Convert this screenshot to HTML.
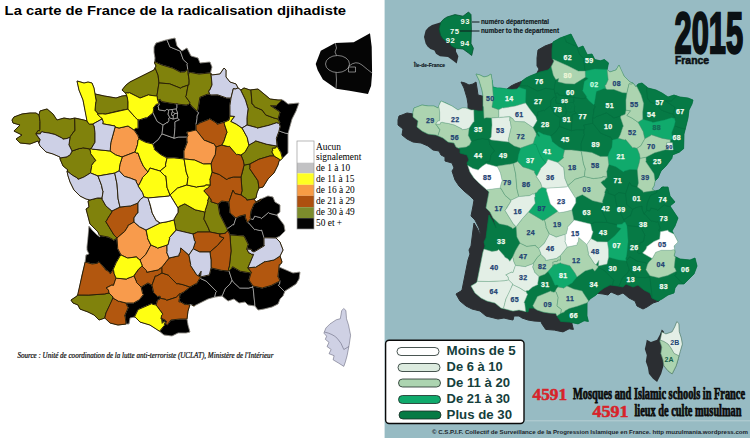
<!DOCTYPE html>
<html><head><meta charset="utf-8"><title>Cartes de France</title>
<style>html,body{margin:0;padding:0;background:#fff;}body{width:750px;height:438px;overflow:hidden;font-family:"Liberation Sans",sans-serif;}svg{display:block}</style>
</head><body>
<svg width="750" height="438" viewBox="0 0 750 438">
<rect x="0" y="0" width="750" height="438" fill="#ffffff"/>
<rect x="384.6" y="0" width="365.4" height="438" fill="#97bbc3"/>
<g id="rightmap" stroke-linejoin="round"><path d="M413.0,112.0 413.0,117.0 418.0,121.0 417.0,127.0 422.0,131.0 428.0,134.0 436.0,135.0 443.0,138.0 448.0,142.0 454.0,143.0 456.0,147.0 460.0,149.0 460.0,153.0 467.0,155.0 469.0,160.0 467.0,163.0 468.0,166.0 470.0,172.0 474.0,178.0 479.0,183.0 485.0,188.0 486.0,189.0 489.0,192.0 488.0,198.0 486.0,208.0 490.0,212.0 494.0,220.0 496.0,228.0 492.0,220.0 489.0,215.0 488.0,222.0 487.0,230.0 486.0,238.0 484.0,242.0 485.0,246.0 483.0,252.0 481.0,262.0 479.0,272.0 477.0,282.0 476.0,283.0 471.0,286.0 475.0,293.0 481.0,298.0 487.0,301.0 495.0,303.0 501.0,308.0 505.0,309.0 513.0,311.0 519.0,310.0 523.0,311.0 528.0,312.0 529.0,308.0 534.0,308.0 537.0,310.0 543.0,312.0 549.0,313.0 555.8,313.4 557.0,316.0 560.7,321.4 569.3,322.1 578.0,323.9 584.1,320.8 588.4,321.4 587.0,316.0 587.0,310.0 587.0,303.0 590.0,299.0 596.0,295.0 600.0,291.0 604.0,288.0 610.0,285.0 618.0,286.0 623.0,287.0 626.0,284.0 633.0,287.0 638.0,285.0 644.0,290.0 650.0,293.0 652.0,298.0 658.0,301.0 662.0,299.0 668.0,295.0 674.0,293.0 675.0,288.0 678.0,284.0 684.0,284.0 688.0,280.0 694.0,274.0 697.0,266.0 695.0,258.0 690.0,260.0 680.0,259.0 674.0,256.0 675.0,252.0 674.0,246.0 678.0,242.0 675.0,236.0 672.0,231.0 675.0,226.0 678.0,218.0 674.0,212.0 670.0,206.0 675.0,202.0 670.0,196.0 668.0,187.0 662.0,187.0 659.0,190.0 655.0,191.0 652.0,189.0 654.0,186.0 655.0,181.0 658.0,178.0 661.0,171.0 666.0,166.0 671.9,158.3 672.6,154.9 679.5,152.1 683.6,148.7 683.8,142.0 684.0,134.0 686.0,126.0 688.0,118.0 689.0,110.0 692.0,104.0 693.0,100.0 688.0,98.0 680.0,97.0 674.0,95.0 668.0,97.0 662.0,93.0 656.0,90.0 648.0,88.0 642.0,83.0 638.0,84.0 636.0,87.0 633.0,83.0 630.0,82.0 624.0,76.0 621.0,70.0 619.0,65.0 616.0,70.0 610.0,72.0 607.1,69.7 608.5,62.9 604.4,59.5 600.3,60.8 594.8,59.5 592.0,54.0 587.3,54.7 583.0,46.0 578.0,48.0 575.0,42.0 571.0,34.0 560.0,38.0 553.0,42.0 552.0,50.0 552.0,58.0 554.0,61.0 551.0,67.0 548.0,70.0 540.0,72.0 530.0,76.0 526.0,78.0 522.0,81.0 520.0,86.0 517.0,89.0 512.0,89.5 506.0,89.0 500.0,88.0 497.0,88.0 493.0,87.0 492.0,80.0 491.0,74.0 488.0,76.0 484.0,77.0 480.0,75.0 476.0,74.0 479.0,80.0 482.0,90.0 483.0,96.0 483.0,104.0 483.0,111.0 478.0,111.0 474.0,110.0 471.0,110.0 466.0,108.0 462.0,108.0 458.0,110.0 452.0,106.0 446.0,103.0 441.0,101.0 440.0,103.0 438.0,108.0 434.0,106.0 428.0,106.0 422.0,105.0 417.0,107.0 414.0,108.0Z" fill="#2b2e32" stroke="#2b2e32" stroke-width="1" transform="translate(-15,8)"/><path d="M413.0,112.0 413.0,117.0 418.0,121.0 417.0,127.0 422.0,131.0 428.0,134.0 436.0,135.0 443.0,138.0 448.0,142.0 454.0,143.0 456.0,147.0 460.0,149.0 460.0,153.0 467.0,155.0 469.0,160.0 467.0,163.0 468.0,166.0 470.0,172.0 474.0,178.0 479.0,183.0 485.0,188.0 486.0,189.0 489.0,192.0 488.0,198.0 486.0,208.0 490.0,212.0 494.0,220.0 496.0,228.0 492.0,220.0 489.0,215.0 488.0,222.0 487.0,230.0 486.0,238.0 484.0,242.0 485.0,246.0 483.0,252.0 481.0,262.0 479.0,272.0 477.0,282.0 476.0,283.0 471.0,286.0 475.0,293.0 481.0,298.0 487.0,301.0 495.0,303.0 501.0,308.0 505.0,309.0 513.0,311.0 519.0,310.0 523.0,311.0 528.0,312.0 529.0,308.0 534.0,308.0 537.0,310.0 543.0,312.0 549.0,313.0 555.8,313.4 557.0,316.0 560.7,321.4 569.3,322.1 578.0,323.9 584.1,320.8 588.4,321.4 587.0,316.0 587.0,310.0 587.0,303.0 590.0,299.0 596.0,295.0 600.0,291.0 604.0,288.0 610.0,285.0 618.0,286.0 623.0,287.0 626.0,284.0 633.0,287.0 638.0,285.0 644.0,290.0 650.0,293.0 652.0,298.0 658.0,301.0 662.0,299.0 668.0,295.0 674.0,293.0 675.0,288.0 678.0,284.0 684.0,284.0 688.0,280.0 694.0,274.0 697.0,266.0 695.0,258.0 690.0,260.0 680.0,259.0 674.0,256.0 675.0,252.0 674.0,246.0 678.0,242.0 675.0,236.0 672.0,231.0 675.0,226.0 678.0,218.0 674.0,212.0 670.0,206.0 675.0,202.0 670.0,196.0 668.0,187.0 662.0,187.0 659.0,190.0 655.0,191.0 652.0,189.0 654.0,186.0 655.0,181.0 658.0,178.0 661.0,171.0 666.0,166.0 671.9,158.3 672.6,154.9 679.5,152.1 683.6,148.7 683.8,142.0 684.0,134.0 686.0,126.0 688.0,118.0 689.0,110.0 692.0,104.0 693.0,100.0 688.0,98.0 680.0,97.0 674.0,95.0 668.0,97.0 662.0,93.0 656.0,90.0 648.0,88.0 642.0,83.0 638.0,84.0 636.0,87.0 633.0,83.0 630.0,82.0 624.0,76.0 621.0,70.0 619.0,65.0 616.0,70.0 610.0,72.0 607.1,69.7 608.5,62.9 604.4,59.5 600.3,60.8 594.8,59.5 592.0,54.0 587.3,54.7 583.0,46.0 578.0,48.0 575.0,42.0 571.0,34.0 560.0,38.0 553.0,42.0 552.0,50.0 552.0,58.0 554.0,61.0 551.0,67.0 548.0,70.0 540.0,72.0 530.0,76.0 526.0,78.0 522.0,81.0 520.0,86.0 517.0,89.0 512.0,89.5 506.0,89.0 500.0,88.0 497.0,88.0 493.0,87.0 492.0,80.0 491.0,74.0 488.0,76.0 484.0,77.0 480.0,75.0 476.0,74.0 479.0,80.0 482.0,90.0 483.0,96.0 483.0,104.0 483.0,111.0 478.0,111.0 474.0,110.0 471.0,110.0 466.0,108.0 462.0,108.0 458.0,110.0 452.0,106.0 446.0,103.0 441.0,101.0 440.0,103.0 438.0,108.0 434.0,106.0 428.0,106.0 422.0,105.0 417.0,107.0 414.0,108.0Z" fill="#067a45" stroke="#067a45" stroke-width="0.4"/><path d="M471.4,141.3 469.4,145.2 466.9,146.4 466.7,146.9 458.2,148.1 460.0,149.0 460.0,153.0 467.0,155.0 469.0,160.0 467.0,163.0 467.8,165.5 473.0,168.5 478.4,170.1 478.8,169.3 482.6,166.0 486.1,163.7 485.8,162.1 489.9,161.4 490.8,156.3 490.6,155.8 493.2,152.2 494.8,151.1 489.5,144.0 489.7,143.6 488.9,139.7 481.7,138.4 481.3,138.9 478.4,139.1Z" fill="#067a45" stroke="#056c3f" stroke-width="0.5"/><path d="M473.8,110.0 474.1,121.8 473.3,122.1 469.3,127.6 468.4,134.6 468.1,135.0 471.3,141.4 478.4,139.1 481.3,138.9 481.7,138.4 488.9,139.7 491.1,137.2 492.0,128.0 491.9,118.6 491.7,118.0 486.6,117.7 484.0,118.3 483.5,106.7 483.0,106.2 483.0,111.0 478.0,111.0Z" fill="#067a45" stroke="#056c3f" stroke-width="0.5"/><path d="M507.5,225.5 499.2,223.8 493.0,217.9 494.0,220.0 496.0,228.0 492.0,220.0 489.0,215.0 486.0,238.0 484.0,242.0 485.0,246.0 484.0,249.1 491.9,251.4 497.1,250.8 498.6,249.4 504.6,256.3 504.6,256.9 508.1,259.0 509.8,261.3 512.4,257.6 515.4,250.7 519.2,244.2 520.2,243.2 516.9,236.9 516.2,226.9 512.7,228.8 511.9,227.8Z" fill="#067a45" stroke="#056c3f" stroke-width="0.5"/><path d="M489.5,144.0 494.8,151.1 493.2,152.2 490.6,155.8 490.8,156.3 489.9,161.4 485.8,162.1 486.1,163.7 497.1,166.7 497.4,166.0 513.4,163.6 517.7,161.5 518.4,155.2 520.4,149.0 520.4,148.1 514.1,145.9 508.5,142.0 491.2,139.9 489.6,139.0 488.9,139.7 489.7,143.6Z" fill="#067a45" stroke="#056c3f" stroke-width="0.5"/><path d="M526.8,86.1 527.2,85.8 537.7,91.2 546.1,88.2 546.5,88.5 553.0,89.5 554.3,89.3 555.8,79.6 553.3,75.2 551.2,66.7 548.0,70.0 540.0,72.0 530.0,76.0 526.0,78.0 522.0,81.0 520.0,86.0Z" fill="#067a45" stroke="#056c3f" stroke-width="0.5"/><path d="M552.7,59.1 567.9,65.8 578.3,71.1 585.2,71.1 583.6,59.4 584.0,58.6 579.7,54.6 576.8,46.4 566.3,42.0 566.3,41.4 564.2,36.5 560.0,38.0 553.0,42.0 552.0,50.0 552.0,58.0Z" fill="#067a45" stroke="#056c3f" stroke-width="0.5"/><path d="M538.1,284.4 532.3,287.2 528.6,290.5 526.4,290.7 526.0,291.2 526.8,293.4 527.7,294.0 524.1,302.5 524.7,303.2 525.7,311.5 528.0,312.0 529.0,308.0 534.4,308.2 532.8,305.7 537.4,296.5 550.7,291.0 551.3,291.6 554.0,292.2 555.2,291.5 556.3,288.9 557.9,287.0 558.2,285.3 556.0,285.0 555.0,285.4 551.5,277.6 547.9,271.6 544.9,274.3 538.9,276.5 537.7,283.4Z" fill="#067a45" stroke="#056c3f" stroke-width="0.5"/><path d="M527.2,85.8 526.8,86.1 520.0,86.0 518.8,87.2 526.0,89.5 525.5,102.9 529.6,108.8 535.8,116.7 537.9,115.6 537.5,112.3 543.9,110.3 544.5,110.6 549.8,106.5 550.5,105.8 551.1,102.0 550.6,101.2 553.7,97.4 556.5,97.1 556.5,96.8 555.0,93.8 554.2,89.3 553.0,89.5 546.5,88.5 546.1,88.2 537.7,91.2Z" fill="#067a45" stroke="#056c3f" stroke-width="0.5"/><path d="M543.9,110.3 537.5,112.3 537.9,115.6 535.8,116.7 537.1,120.8 533.0,127.4 536.1,133.2 539.2,136.7 539.5,135.4 537.4,132.7 538.5,131.7 543.5,134.3 550.6,136.1 555.8,132.0 559.5,126.4 560.5,117.8 554.7,114.2 550.4,105.8 544.5,110.6Z" fill="#067a45" stroke="#056c3f" stroke-width="0.5"/><path d="M550.5,105.8 554.7,114.2 560.5,117.8 564.1,115.6 564.7,115.8 566.3,113.4 566.0,111.6 566.8,110.3 565.2,107.4 565.8,104.6 565.5,103.4 564.8,102.8 563.6,102.7 562.3,104.1 556.0,102.9 556.1,101.2 555.4,100.0 556.8,97.6 556.5,97.1 553.7,97.4 550.6,101.2 551.1,102.0Z" fill="#067a45" stroke="#056c3f" stroke-width="0.5"/><path d="M571.3,130.8 559.5,126.4 555.8,132.0 550.6,136.1 552.1,140.4 551.9,141.2 558.4,146.5 564.6,149.9 571.5,149.9 581.3,151.2 581.1,143.5 584.5,134.5 584.0,134.0 584.0,129.8 575.9,129.7Z" fill="#067a45" stroke="#056c3f" stroke-width="0.5"/><path d="M555.8,79.6 554.2,89.3 555.1,93.6 557.5,92.9 558.7,94.9 566.6,96.5 572.8,97.5 573.9,97.2 575.6,97.9 583.0,98.8 585.3,98.2 586.4,97.2 586.6,96.4 582.4,90.5 582.9,89.9 584.3,81.5 588.2,78.6 585.4,77.2 574.4,84.1 565.8,83.7 557.9,81.8 558.7,78.6Z" fill="#067a45" stroke="#056c3f" stroke-width="0.5"/><path d="M556.8,97.6 555.4,100.0 556.1,101.2 556.0,102.9 562.3,104.1 563.6,102.7 564.8,102.8 565.5,103.4 573.1,102.5 574.0,101.6 573.9,97.2 572.8,97.5 558.7,94.9 557.5,92.9 555.0,93.8Z" fill="#067a45" stroke="#056c3f" stroke-width="0.5"/><path d="M569.2,308.6 564.7,311.1 564.5,311.9 560.8,313.3 557.0,316.0 560.7,321.4 569.3,322.1 578.0,323.9 584.1,320.8 588.4,321.4 587.0,316.0 587.1,302.8 577.4,306.2Z" fill="#067a45" stroke="#056c3f" stroke-width="0.5"/><path d="M564.1,115.6 560.4,118.0 559.5,126.3 571.3,130.7 572.2,120.4 572.1,114.9 576.5,113.0 574.3,111.2 570.3,112.2 566.7,110.9 566.0,111.6 566.3,113.4 564.7,115.8Z" fill="#067a45" stroke="#056c3f" stroke-width="0.5"/><path d="M566.3,41.4 566.3,42.0 576.8,46.4 579.7,54.6 584.0,58.6 583.6,59.4 585.2,71.1 594.7,69.0 606.4,69.7 607.2,69.4 608.5,62.9 604.4,59.5 600.3,60.8 594.8,59.5 592.0,54.0 587.3,54.7 583.0,46.0 578.0,48.0 571.0,34.0 564.2,36.5Z" fill="#067a45" stroke="#056c3f" stroke-width="0.5"/><path d="M565.4,107.5 566.8,110.3 566.7,110.9 570.3,112.2 570.4,108.9 568.9,108.5 568.7,107.7 569.2,105.7 569.6,105.3 569.3,102.9 565.5,103.4 565.8,104.6Z" fill="#067a45" stroke="none" stroke-width="0.5"/><path d="M585.1,270.9 577.0,277.0 572.8,282.1 572.8,282.5 566.9,286.0 573.7,288.9 582.4,291.1 582.5,291.7 588.6,300.9 590.0,299.0 596.0,295.0 600.0,291.0 604.0,288.0 610.0,285.0 612.6,285.3 613.3,281.6 614.2,280.4 604.0,270.1 598.0,267.3 594.8,271.2 592.7,268.8Z" fill="#067a45" stroke="#056c3f" stroke-width="0.5"/><path d="M568.9,108.5 570.4,108.9 572.0,106.9 570.7,105.7 569.6,105.3 569.2,105.7 568.7,107.7Z" fill="#067a45" stroke="none" stroke-width="0.5"/><path d="M570.4,108.9 570.5,112.1 574.3,111.2 574.5,106.6 572.0,106.9Z" fill="#067a45" stroke="none" stroke-width="0.5"/><path d="M575.6,97.9 574.0,97.2 574.0,101.6 573.1,102.5 574.6,106.5 574.3,111.2 576.5,113.0 572.1,114.9 572.2,120.4 571.3,130.8 575.9,129.7 584.0,129.8 585.0,128.8 583.8,125.2 589.0,124.4 592.9,123.2 592.8,117.9 593.8,111.9 593.8,109.2 594.2,109.1 595.3,106.5 588.5,100.2 586.4,97.2 585.3,98.2 583.0,98.8Z" fill="#067a45" stroke="#056c3f" stroke-width="0.5"/><path d="M570.7,105.7 572.0,106.9 574.6,106.5 573.1,102.5 569.3,102.9 569.6,105.3Z" fill="#067a45" stroke="none" stroke-width="0.5"/><path d="M575.7,198.6 575.8,202.8 572.0,209.1 571.9,210.1 573.9,220.0 590.6,224.1 594.2,222.8 594.5,222.3 607.2,222.5 605.7,218.5 601.7,210.5 601.2,210.2 602.3,203.0 592.6,200.7 582.3,194.7 576.7,197.2Z" fill="#067a45" stroke="#056c3f" stroke-width="0.5"/><path d="M636.6,86.1 641.1,95.0 643.7,103.6 642.7,112.3 642.8,119.3 652.3,122.0 652.7,122.6 664.4,120.0 671.7,117.7 673.6,118.3 674.4,118.2 674.9,117.6 673.1,113.9 669.2,113.0 661.1,109.9 657.6,105.1 649.8,101.7 649.7,100.9 648.5,99.3 647.6,99.0 646.5,86.7 642.0,83.0 638.0,84.0Z" fill="#067a45" stroke="#056c3f" stroke-width="0.5"/><path d="M646.5,86.7 647.6,99.0 648.5,99.3 649.7,100.9 649.8,101.7 657.6,105.1 661.1,109.9 669.2,113.0 672.8,114.0 673.3,113.7 675.1,107.3 665.7,101.0 671.3,101.2 676.7,95.9 674.0,95.0 668.0,97.0 662.0,93.0 656.0,90.0 648.0,88.0Z" fill="#067a45" stroke="#056c3f" stroke-width="0.5"/><path d="M592.9,123.2 583.8,125.2 585.0,128.8 584.0,129.8 584.0,134.0 584.5,134.5 581.1,143.5 581.3,151.1 591.7,152.4 600.4,156.4 607.8,156.4 609.1,152.6 611.9,147.3 612.5,140.1 610.2,136.6 609.6,136.8 601.7,133.5 601.1,133.6Z" fill="#067a45" stroke="#056c3f" stroke-width="0.5"/><path d="M608.6,257.3 607.0,264.1 598.4,265.9 598.9,260.4 596.0,264.8 598.1,266.2 598.0,267.3 604.0,270.1 614.2,280.4 613.3,281.6 612.6,285.3 619.0,286.2 622.5,277.9 627.3,273.4 629.3,269.4 626.2,260.7 618.8,259.9Z" fill="#067a45" stroke="#056c3f" stroke-width="0.5"/><path d="M590.6,224.3 592.2,231.0 593.1,231.6 590.8,238.4 597.3,241.7 607.4,241.9 614.8,235.7 621.1,228.5 616.9,226.9 617.0,224.6 607.2,222.5 594.5,222.3 594.2,222.8Z" fill="#067a45" stroke="#056c3f" stroke-width="0.5"/><path d="M605.4,113.2 596.0,116.7 594.8,118.0 592.8,117.9 592.9,123.3 601.1,133.6 601.7,133.5 609.6,136.8 610.2,136.6 612.5,140.1 618.4,138.3 620.3,134.6 622.9,126.7 623.4,126.2 620.5,117.7 620.7,116.1 613.5,118.1 612.9,116.9 606.1,112.6Z" fill="#067a45" stroke="#056c3f" stroke-width="0.5"/><path d="M596.4,91.5 594.3,104.0 593.4,105.0 595.3,106.5 594.2,109.1 593.8,109.2 593.8,111.9 592.8,117.8 594.8,118.0 596.0,116.7 605.4,113.2 606.1,112.6 612.9,116.9 613.5,118.1 620.5,115.9 621.0,116.1 625.1,114.3 626.0,110.2 625.9,100.0 626.9,92.9 622.6,92.7 613.8,89.5 606.9,89.5 605.9,88.5 603.4,88.8Z" fill="#067a45" stroke="#056c3f" stroke-width="0.5"/><path d="M605.0,192.9 602.4,201.4 602.7,202.7 602.2,203.1 601.2,210.2 601.7,210.5 605.7,218.5 607.2,222.5 617.1,224.6 622.5,224.0 622.7,223.2 624.7,222.0 623.8,219.4 616.7,205.6 614.9,195.4 608.0,193.1 608.4,191.5 606.2,188.4 604.6,192.4Z" fill="#067a45" stroke="#056c3f" stroke-width="0.5"/><path d="M607.1,176.9 604.1,180.5 603.4,180.3 600.9,182.4 606.2,188.4 608.4,191.5 608.0,193.1 614.8,195.4 618.1,193.1 618.4,192.6 625.7,193.7 629.5,182.4 631.5,185.7 637.4,187.1 638.4,183.1 637.3,169.7 629.9,169.5 624.5,170.9 623.5,172.0 615.9,166.8 608.8,164.4 606.6,172.1 606.9,172.4Z" fill="#067a45" stroke="#056c3f" stroke-width="0.5"/><path d="M627.3,273.4 622.5,277.9 619.0,286.2 623.0,287.0 626.0,284.0 633.0,287.0 638.0,285.0 644.0,290.0 650.0,293.0 652.3,298.2 650.1,278.1 649.5,276.7 645.7,277.6 636.9,277.4 630.7,271.7 629.5,269.4Z" fill="#067a45" stroke="#056c3f" stroke-width="0.5"/><path d="M614.9,195.4 616.7,205.6 623.7,219.4 625.2,219.1 629.4,216.1 630.5,216.1 632.7,209.5 626.8,204.5 625.7,193.7 618.4,192.6 618.1,193.1Z" fill="#067a45" stroke="#056c3f" stroke-width="0.5"/><path d="M625.7,193.7 626.8,204.5 632.7,209.4 636.3,207.6 641.9,206.3 641.9,209.0 643.9,214.0 647.1,210.3 646.6,209.5 647.3,203.1 650.5,195.6 656.4,192.9 657.4,190.4 655.0,191.0 654.5,190.6 643.2,192.3 642.7,190.9 637.4,187.1 631.5,185.7 629.5,182.4Z" fill="#067a45" stroke="#056c3f" stroke-width="0.5"/><path d="M632.7,209.4 630.5,216.1 629.4,216.1 625.2,219.1 623.8,219.4 624.7,222.0 625.2,222.3 626.9,225.7 640.7,227.0 644.9,235.3 644.5,235.7 643.4,241.4 639.8,243.0 639.6,245.4 637.4,252.2 638.7,253.6 642.6,253.0 645.6,249.8 646.7,247.5 646.6,246.8 653.9,241.5 659.7,239.0 660.4,231.7 658.8,230.3 660.3,228.2 658.0,221.5 656.4,222.0 652.0,220.8 651.1,221.1 645.3,214.4 643.9,214.0 641.9,209.0 641.9,206.3 636.3,207.6Z" fill="#067a45" stroke="#056c3f" stroke-width="0.5"/><path d="M626.3,260.8 629.2,269.4 630.7,271.7 636.9,277.4 645.7,277.6 649.5,276.7 649.9,275.6 645.9,269.8 647.5,264.3 646.4,263.8 645.5,262.6 637.3,261.1 629.7,256.6Z" fill="#067a45" stroke="#056c3f" stroke-width="0.5"/><path d="M626.9,225.7 628.1,241.3 626.6,255.7 625.6,258.8 626.2,260.7 628.3,258.7 629.7,256.6 637.3,261.1 645.5,262.6 646.4,263.8 647.7,264.2 649.1,261.7 652.2,258.6 642.6,253.0 638.7,253.6 637.4,252.2 639.6,245.4 639.8,243.0 643.4,241.4 644.5,235.7 644.9,235.3 640.7,227.0Z" fill="#067a45" stroke="#056c3f" stroke-width="0.5"/><path d="M646.0,157.2 646.1,161.0 645.7,161.6 654.0,173.7 655.1,180.9 658.0,178.0 661.0,171.0 666.0,166.0 671.9,158.3 672.6,154.9 679.1,152.3 672.8,149.8 665.5,149.8 654.7,152.8ZM662.0,187.0 661.1,187.9 664.0,187.0Z" fill="#067a45" stroke="#056c3f" stroke-width="0.5"/><path d="M656.6,209.4 650.9,207.9 649.5,211.1 647.1,210.3 644.2,213.9 645.3,214.4 651.1,221.1 652.0,220.8 656.4,222.0 658.0,221.5 660.3,228.2 658.8,230.3 660.4,231.7 668.0,230.2 668.5,231.5 673.9,234.1 672.0,231.0 675.0,226.0 678.0,218.0 670.6,206.8 665.6,205.5 664.6,204.6 657.6,210.3Z" fill="#067a45" stroke="#056c3f" stroke-width="0.5"/><path d="M647.3,203.1 646.6,209.5 647.1,210.3 649.5,211.1 650.9,207.9 656.6,209.4 657.6,210.3 664.6,204.6 665.6,205.5 670.6,206.8 670.0,206.0 675.0,202.0 670.0,196.0 668.0,187.0 664.0,187.0 661.1,187.9 659.0,190.0 657.4,190.4 656.4,192.9 650.5,195.6Z" fill="#067a45" stroke="#056c3f" stroke-width="0.5"/><path d="M650.1,278.1 652.3,298.2 658.0,301.0 662.0,299.0 668.0,295.0 674.0,293.0 675.0,288.0 678.0,284.0 683.2,284.0 674.9,275.6 676.0,274.2 676.3,271.3 667.7,275.5 659.6,277.6 659.2,277.9 649.9,275.7 649.5,276.7Z" fill="#067a45" stroke="#056c3f" stroke-width="0.5"/><path d="M674.2,125.7 671.7,132.7 672.3,139.3 670.3,139.8 670.2,142.5 672.4,142.7 673.3,150.2 679.1,152.3 683.6,148.7 684.0,134.0 685.3,128.9 680.9,128.0Z" fill="#067a45" stroke="#056c3f" stroke-width="0.5"/><path d="M675.1,107.3 673.1,113.9 674.9,117.6 674.4,118.2 675.3,121.4 674.2,125.7 680.9,128.0 685.3,128.9 688.0,118.0 689.0,110.0 692.0,104.0 693.0,100.0 688.0,98.0 680.0,97.0 676.7,95.9 671.3,101.2 665.7,101.0Z" fill="#067a45" stroke="#056c3f" stroke-width="0.5"/><path d="M675.4,256.7 674.2,267.5 674.9,267.9 676.4,271.3 676.0,274.2 674.9,275.6 683.2,284.0 684.0,284.0 694.0,274.0 697.0,266.0 695.0,258.0 690.0,260.0 680.0,259.0Z" fill="#067a45" stroke="#056c3f" stroke-width="0.5"/><path d="M492.0,80.1 493.4,98.2 491.9,107.2 499.1,109.8 502.5,107.8 503.0,108.1 515.3,106.0 525.5,102.9 526.0,89.5 518.8,87.2 517.0,89.0 512.0,89.5 500.0,88.0 497.0,88.0 493.0,87.0Z" fill="#10aa6c" stroke="#0a9660" stroke-width="0.5"/><path d="M533.2,143.4 520.4,148.1 520.4,149.0 518.4,155.2 517.6,161.3 522.8,166.9 528.8,168.8 534.5,171.1 534.4,172.4 536.5,175.9 537.3,175.5 540.7,168.8 540.6,168.4 546.0,163.2 541.4,157.3 538.7,151.6 536.0,144.4 534.3,144.5Z" fill="#10aa6c" stroke="#0a9660" stroke-width="0.5"/><path d="M534.9,193.6 535.1,197.0 534.4,197.4 535.2,203.3 528.5,212.0 542.7,220.4 543.4,220.0 544.2,220.3 557.7,211.3 550.4,204.0 546.8,191.6 546.4,191.2 546.6,188.4 542.0,187.2 538.7,189.7 536.6,192.7 536.0,192.6Z" fill="#10aa6c" stroke="#0a9660" stroke-width="0.5"/><path d="M536.1,133.2 536.0,136.4 535.3,136.7 533.2,143.4 534.3,144.5 536.0,144.4 538.7,151.6 541.4,157.3 546.0,163.2 547.9,159.3 557.8,162.4 563.6,157.8 563.1,156.6 564.6,149.9 558.4,146.5 551.9,141.2 552.1,140.4 550.5,136.0 543.5,134.3 538.5,131.7 537.4,132.7 539.5,135.4 539.2,136.7Z" fill="#10aa6c" stroke="#0a9660" stroke-width="0.5"/><path d="M560.7,262.8 555.8,264.4 554.9,264.1 553.8,265.1 552.5,265.6 552.3,266.5 547.9,271.6 551.5,277.6 555.0,285.4 556.0,285.0 558.2,285.3 557.9,287.0 562.9,287.9 563.5,288.3 572.8,282.5 572.8,282.1 577.0,277.0 575.1,273.2 569.8,265.7 561.3,263.4Z" fill="#10aa6c" stroke="#0a9660" stroke-width="0.5"/><path d="M594.7,69.0 585.2,71.1 585.2,76.9 588.2,78.6 584.3,81.5 582.9,89.9 582.4,90.5 586.6,96.4 586.4,97.2 588.5,100.2 593.5,104.7 594.3,104.0 596.4,91.5 603.4,88.8 605.9,88.5 604.9,85.5 606.0,84.8 608.2,79.7 607.1,69.4Z" fill="#10aa6c" stroke="#0a9660" stroke-width="0.5"/><path d="M616.9,226.9 621.1,228.5 614.8,235.7 607.4,241.9 608.5,249.6 608.5,257.3 618.8,259.9 626.2,260.7 625.6,258.8 626.6,255.7 628.1,241.3 626.9,225.7 625.2,222.3 624.7,222.0 622.7,223.2 622.5,224.0 617.1,224.6Z" fill="#10aa6c" stroke="#0a9660" stroke-width="0.5"/><path d="M618.1,138.4 612.5,140.1 611.9,147.3 609.1,152.6 607.8,156.4 608.8,164.4 615.9,166.8 623.5,172.0 624.5,170.9 629.9,169.5 637.3,169.7 640.2,158.2 639.5,154.2 637.1,148.3 633.7,147.6 632.8,147.9 625.6,139.5 624.5,139.9Z" fill="#10aa6c" stroke="#0a9660" stroke-width="0.5"/><path d="M664.4,120.0 652.7,122.6 652.3,122.0 642.8,119.3 638.0,122.2 643.1,131.4 644.8,138.8 650.7,135.6 651.2,134.8 662.4,138.4 670.3,139.8 672.3,139.3 671.7,132.7 674.2,125.9 675.3,121.4 674.4,118.2 673.6,118.3 671.7,117.7Z" fill="#10aa6c" stroke="#0a9660" stroke-width="0.5"/><path d="M439.7,112.2 438.8,106.0 438.0,108.0 434.0,106.0 428.0,106.0 422.0,105.0 414.0,108.0 413.0,112.0 413.0,117.0 418.0,121.0 417.0,127.0 422.0,131.0 428.0,134.0 436.0,135.0 437.9,135.8 440.0,129.7 439.2,129.1 435.8,124.1 437.8,120.9 439.3,121.1 439.7,120.0Z" fill="#acd4b0" stroke="#5f9c7c" stroke-width="0.5"/><path d="M435.8,124.1 440.0,129.7 437.9,135.8 443.0,138.0 448.0,142.0 454.0,143.0 456.0,147.0 458.2,148.1 466.7,146.9 466.9,146.4 469.4,145.2 471.3,141.4 468.1,135.0 468.4,134.6 469.2,128.0 466.4,129.1 462.3,129.7 461.8,128.8 454.4,125.0 448.6,123.5 443.0,122.6 442.6,122.1 440.5,122.7 440.2,124.1Z" fill="#acd4b0" stroke="#5f9c7c" stroke-width="0.5"/><path d="M483.5,106.7 484.0,118.3 486.6,117.7 491.7,118.0 498.9,117.3 498.8,109.8 491.9,107.2 493.4,98.2 492.0,80.1 491.0,74.0 488.0,76.0 484.0,77.0 480.0,75.0 476.0,74.0 479.0,80.0 482.0,90.0 483.0,96.0 483.0,106.2Z" fill="#acd4b0" stroke="#5f9c7c" stroke-width="0.5"/><path d="M493.0,217.9 499.2,223.8 507.5,225.5 511.9,227.8 512.7,228.8 515.9,226.8 513.1,223.6 504.9,210.3 505.9,209.6 506.9,207.4 511.0,201.2 510.9,200.3 505.0,195.3 501.2,188.7 499.8,188.0 486.7,189.7 489.0,192.0 486.0,208.0 490.0,212.0Z" fill="#acd4b0" stroke="#5f9c7c" stroke-width="0.5"/><path d="M500.4,172.9 502.3,181.2 501.6,181.8 500.0,188.1 500.4,188.6 501.2,188.7 505.0,195.3 510.9,200.3 518.8,196.6 516.9,188.7 515.7,174.2 513.4,163.6 497.4,166.0 497.1,167.1 498.1,168.1Z" fill="#acd4b0" stroke="#5f9c7c" stroke-width="0.5"/><path d="M509.7,121.0 510.2,121.4 511.1,127.4 508.2,140.0 508.7,141.3 508.5,142.0 514.1,145.9 520.4,148.1 533.2,143.4 535.3,136.7 536.0,136.4 536.1,133.2 533.0,127.4 524.5,121.8 515.2,121.4 513.3,119.7 513.3,119.0 509.8,116.7Z" fill="#acd4b0" stroke="#5f9c7c" stroke-width="0.5"/><path d="M515.4,250.7 512.4,257.6 513.0,257.9 513.6,261.3 515.5,265.6 525.9,266.7 526.2,266.2 533.1,263.8 537.4,257.3 540.6,254.5 540.9,253.5 538.8,248.4 535.9,246.2 535.5,245.3 526.7,246.3 520.2,243.2 519.2,244.2Z" fill="#acd4b0" stroke="#5f9c7c" stroke-width="0.5"/><path d="M513.4,163.6 515.7,174.2 516.9,188.7 518.8,196.6 529.3,195.7 531.3,194.8 532.1,193.9 533.2,194.2 534.9,193.6 536.0,192.6 536.6,192.7 538.7,189.7 541.8,187.6 542.0,186.7 540.7,183.0 536.2,176.3 536.5,175.9 534.4,172.4 534.5,171.1 528.8,168.8 522.8,166.9 517.7,161.5Z" fill="#acd4b0" stroke="#5f9c7c" stroke-width="0.5"/><path d="M528.4,211.9 521.9,219.2 516.1,226.8 516.9,236.9 520.2,243.2 526.7,246.3 535.5,245.3 535.9,246.2 538.8,248.4 544.4,243.2 549.4,234.2 546.0,227.2 546.2,226.8 545.0,221.4 544.2,220.3 543.4,220.0 542.7,220.4Z" fill="#acd4b0" stroke="#5f9c7c" stroke-width="0.5"/><path d="M550.7,291.0 537.4,296.5 532.8,305.7 534.4,308.2 537.0,310.0 543.0,312.0 549.0,313.0 555.8,313.4 557.0,316.0 560.8,313.3 561.4,309.3 557.0,306.1 558.2,297.5 556.2,292.0 555.2,291.5 554.0,292.2 551.3,291.6Z" fill="#acd4b0" stroke="#5f9c7c" stroke-width="0.5"/><path d="M533.1,263.8 533.5,264.3 532.6,266.9 534.4,271.4 534.3,271.9 538.9,276.5 544.9,274.3 547.9,271.6 552.3,266.5 552.5,265.6 553.2,265.3 552.9,262.1 554.2,262.1 554.8,261.4 557.2,261.4 557.9,260.1 560.5,260.2 560.7,255.9 560.4,255.6 557.2,257.8 557.0,258.3 545.6,260.4 545.2,258.6 540.8,254.2 537.4,257.3Z" fill="#acd4b0" stroke="#5f9c7c" stroke-width="0.5"/><path d="M557.7,211.3 544.2,220.3 545.0,221.4 546.2,226.8 546.0,227.2 549.4,234.0 555.5,236.7 555.9,237.2 566.3,234.1 567.8,227.9 567.5,227.3 573.9,220.0 571.9,210.1 565.0,211.8 558.7,212.8Z" fill="#acd4b0" stroke="#5f9c7c" stroke-width="0.5"/><path d="M567.9,65.8 552.7,59.1 554.0,61.0 551.2,66.7 553.3,75.2 555.8,79.6 558.7,78.6 557.9,81.8 565.8,83.7 574.4,84.1 585.4,77.2 585.2,71.1 578.3,71.1Z" fill="#acd4b0" stroke="#5f9c7c" stroke-width="0.5"/><path d="M567.2,247.1 560.4,255.6 560.5,260.2 557.9,260.1 557.2,261.4 554.8,261.4 554.2,262.1 552.9,262.1 553.2,265.3 554.9,264.1 555.8,264.4 560.7,262.8 561.3,263.4 569.8,265.7 575.1,273.2 577.0,277.0 585.1,270.9 592.7,268.8 594.8,271.2 598.0,267.3 598.1,266.2 594.5,263.8 588.3,254.3 588.6,253.7 586.9,244.6 578.7,237.4 578.3,241.4 577.0,243.6 577.0,245.0Z" fill="#acd4b0" stroke="#5f9c7c" stroke-width="0.5"/><path d="M555.2,291.5 556.2,292.0 558.2,297.5 557.0,306.1 561.4,309.3 560.9,313.3 564.5,311.9 564.7,311.1 569.2,308.5 577.4,306.2 587.1,302.8 588.6,300.9 582.5,291.7 582.4,291.1 573.7,288.9 566.9,286.0 563.5,288.3 562.9,287.9 557.9,287.0 556.3,288.9Z" fill="#acd4b0" stroke="#5f9c7c" stroke-width="0.5"/><path d="M563.6,157.8 557.8,162.4 562.5,167.1 563.6,167.3 564.9,179.1 565.2,179.3 567.8,185.8 575.1,179.3 584.4,176.4 585.2,169.7 585.5,169.3 583.5,163.8 581.3,151.2 571.5,149.9 564.6,149.9 563.1,156.6Z" fill="#acd4b0" stroke="#5f9c7c" stroke-width="0.5"/><path d="M584.4,176.4 575.1,179.3 567.8,185.8 575.7,198.6 576.7,197.2 582.3,194.7 592.6,200.7 602.3,203.0 602.7,202.7 602.4,201.4 604.4,195.4 605.0,192.9 604.6,192.4 606.1,188.4 600.9,182.4 603.4,180.3 604.1,180.5 607.3,177.0 602.7,176.6 602.2,177.5 594.3,178.4 594.0,178.7Z" fill="#acd4b0" stroke="#5f9c7c" stroke-width="0.5"/><path d="M581.3,151.1 583.5,163.8 585.5,169.3 585.2,169.7 584.4,176.5 594.0,178.7 594.3,178.4 602.2,177.5 602.7,176.6 607.1,176.9 606.9,172.4 606.6,172.1 608.8,164.4 607.8,156.4 600.4,156.4 591.7,152.4Z" fill="#acd4b0" stroke="#5f9c7c" stroke-width="0.5"/><path d="M608.2,79.7 606.0,84.8 604.9,85.5 605.9,88.5 606.9,89.5 613.8,89.5 622.6,92.7 626.9,92.9 629.1,83.8 631.1,84.2 633.3,83.4 630.0,82.0 624.0,76.0 619.0,65.0 616.0,70.0 610.0,72.0 607.1,69.7Z" fill="#acd4b0" stroke="#5f9c7c" stroke-width="0.5"/><path d="M620.5,117.7 623.4,126.2 622.9,126.7 620.3,134.6 618.4,138.3 624.5,139.9 625.6,139.5 632.8,147.9 633.7,147.6 637.1,148.3 640.9,145.7 644.8,138.9 643.1,131.4 638.0,122.2 632.2,118.2 626.9,115.5 630.6,110.8 626.0,110.2 625.1,114.3 620.7,116.1Z" fill="#acd4b0" stroke="#5f9c7c" stroke-width="0.5"/><path d="M629.1,83.8 626.9,92.9 625.9,100.0 626.0,110.2 630.6,110.8 626.9,115.5 632.2,118.2 638.0,122.2 642.8,119.3 642.7,112.3 643.7,103.6 641.1,95.0 636.6,86.1 636.0,87.0 633.3,83.4 631.1,84.2Z" fill="#acd4b0" stroke="#5f9c7c" stroke-width="0.5"/><path d="M640.1,158.2 639.3,162.4 637.3,169.7 638.4,183.1 637.4,187.1 642.7,190.9 643.2,192.3 654.5,190.6 652.0,189.0 654.0,186.0 655.1,180.9 654.0,173.7 645.7,161.6 646.1,161.0 646.0,157.2Z" fill="#acd4b0" stroke="#5f9c7c" stroke-width="0.5"/><path d="M644.8,138.8 640.9,145.7 637.1,148.3 639.5,154.2 640.2,158.2 646.0,157.2 654.7,152.8 665.5,149.8 668.5,149.9 668.5,149.1 666.8,146.7 666.8,142.8 667.7,142.5 670.2,142.5 670.3,139.8 662.4,138.4 651.2,134.8 650.7,135.6Z" fill="#acd4b0" stroke="#5f9c7c" stroke-width="0.5"/><path d="M661.3,250.2 655.7,252.3 652.2,258.7 649.1,261.7 647.5,264.3 645.9,269.8 649.9,275.7 659.2,277.9 659.6,277.6 667.7,275.5 676.3,271.3 674.9,267.9 674.2,267.5 675.4,256.7 674.0,256.0 675.0,252.0 674.6,249.5 670.3,250.3Z" fill="#acd4b0" stroke="#5f9c7c" stroke-width="0.5"/><path d="M504.4,280.7 488.9,281.5 477.2,281.2 477.0,282.0 476.0,283.0 471.0,286.0 475.0,293.0 481.0,298.0 487.0,301.0 495.0,303.0 501.0,308.0 503.5,308.6 505.9,299.1 509.9,291.3 512.8,284.0 508.7,279.8Z" fill="#e3efe6" stroke="#7fae94" stroke-width="0.5"/><path d="M439.7,112.2 439.7,120.0 439.3,121.1 437.8,120.9 435.8,124.1 440.2,124.1 440.5,122.7 442.6,122.1 443.0,122.6 448.6,123.5 454.4,125.0 461.8,128.8 462.3,129.7 466.4,129.1 469.2,128.0 473.3,122.1 474.1,121.8 473.8,110.0 471.0,110.0 466.0,108.0 462.0,108.0 458.0,110.0 452.0,106.0 441.0,101.0 438.8,106.0Z" fill="#e3efe6" stroke="#7fae94" stroke-width="0.5"/><path d="M504.6,256.3 498.6,249.4 497.1,250.8 491.9,251.4 484.0,249.1 483.0,252.0 477.2,281.2 488.9,281.5 504.4,280.7 508.7,279.8 508.1,276.8 505.8,274.9 511.4,272.2 513.0,272.6 515.5,265.6 513.6,261.3 513.0,257.9 512.4,257.6 509.8,261.3 508.1,259.0 504.6,256.9Z" fill="#e3efe6" stroke="#7fae94" stroke-width="0.5"/><path d="M492.0,125.1 491.1,137.2 489.7,138.5 489.6,139.0 491.2,139.9 508.5,142.0 508.7,141.3 508.2,140.0 511.1,127.4 510.2,121.4 509.7,121.0 509.8,116.6 491.7,118.0Z" fill="#e3efe6" stroke="#7fae94" stroke-width="0.5"/><path d="M515.3,106.0 503.0,108.1 502.5,107.8 498.8,109.8 498.9,117.3 499.3,117.7 500.1,117.3 509.8,116.6 513.3,119.0 513.3,119.7 515.2,121.4 524.5,121.8 532.9,127.4 533.2,127.2 537.1,120.8 535.8,116.7 529.6,108.8 525.5,102.9Z" fill="#e3efe6" stroke="#7fae94" stroke-width="0.5"/><path d="M512.8,284.4 505.9,299.1 503.5,308.6 513.0,311.0 519.0,310.0 525.7,311.5 524.7,303.2 524.1,302.5 527.7,294.0 526.8,293.4 526.0,291.2 525.0,291.3 520.0,288.1Z" fill="#e3efe6" stroke="#7fae94" stroke-width="0.5"/><path d="M511.0,201.2 505.9,209.6 504.9,210.3 513.1,223.6 516.1,226.8 521.9,219.2 528.4,211.9 535.2,203.3 534.4,197.4 535.1,197.0 534.9,193.6 533.2,194.2 532.1,193.9 531.3,194.8 529.3,195.7 518.8,196.6 510.9,200.3Z" fill="#e3efe6" stroke="#7fae94" stroke-width="0.5"/><path d="M513.0,272.6 511.4,272.2 505.8,274.9 508.1,276.8 508.7,279.9 512.8,284.0 513.1,284.8 520.0,288.1 525.0,291.3 526.0,291.2 526.4,290.7 528.6,290.5 532.3,287.2 538.1,284.4 537.7,283.4 538.9,276.5 534.3,271.9 534.4,271.4 532.6,266.9 533.5,264.3 533.1,263.8 526.2,266.2 525.9,266.7 515.7,265.5 515.3,265.7Z" fill="#e3efe6" stroke="#7fae94" stroke-width="0.5"/><path d="M546.0,163.2 540.6,168.4 540.7,168.8 537.3,175.5 536.2,176.3 540.7,183.0 542.0,187.2 546.6,188.4 566.8,186.9 567.8,186.0 565.2,179.3 564.9,179.1 563.6,167.3 562.5,167.1 557.8,162.4 547.9,159.3Z" fill="#e3efe6" stroke="#7fae94" stroke-width="0.5"/><path d="M544.4,243.2 538.8,248.4 540.9,253.5 540.8,254.2 545.2,258.6 545.6,260.4 557.0,258.3 557.2,257.8 560.4,255.6 567.3,247.0 564.9,241.1 565.3,240.5 565.1,234.3 555.9,237.2 555.5,236.7 549.4,234.0Z" fill="#e3efe6" stroke="#7fae94" stroke-width="0.5"/><path d="M586.8,244.5 588.6,253.7 588.3,254.3 594.5,263.8 596.0,264.8 598.9,260.4 598.4,265.9 607.0,264.1 608.6,257.3 608.5,249.6 607.4,241.9 597.3,241.7 590.9,238.5Z" fill="#e3efe6" stroke="#7fae94" stroke-width="0.5"/><path d="M672.4,142.7 667.7,142.5 666.8,142.8 666.8,146.7 668.5,149.1 668.5,150.0 673.2,149.9Z" fill="#e3efe6" stroke="#7fae94" stroke-width="0.5"/><path d="M497.1,166.7 486.1,163.7 482.6,166.0 478.8,169.3 478.4,170.1 473.0,168.5 467.8,165.5 470.0,172.0 474.0,178.0 479.0,183.0 486.7,189.7 500.0,188.1 501.6,181.8 502.3,181.2 500.4,172.9 498.1,168.1Z" fill="#ffffff" stroke="#9dbfae" stroke-width="0.5"/><path d="M546.8,191.6 550.4,204.0 557.7,211.1 558.7,212.8 565.0,211.8 571.9,210.1 572.0,209.1 575.8,202.8 575.7,198.6 567.8,186.0 566.8,186.9 546.6,188.3 546.4,191.2Z" fill="#ffffff" stroke="#9dbfae" stroke-width="0.5"/><path d="M567.8,227.9 566.3,234.1 565.2,234.3 565.3,240.5 564.9,241.1 567.3,247.0 577.0,245.0 577.0,243.6 578.3,241.4 578.7,237.4 586.8,244.5 590.9,238.5 593.1,231.6 592.2,231.0 590.6,224.1 574.2,220.0 567.5,227.3Z" fill="#ffffff" stroke="#9dbfae" stroke-width="0.5"/><path d="M646.6,246.8 646.7,247.5 645.6,249.8 642.6,253.0 652.2,258.6 655.7,252.3 661.3,250.2 670.3,250.3 674.6,249.5 674.0,246.0 678.0,242.0 673.9,234.1 668.5,231.5 668.0,230.2 660.4,231.7 659.7,239.0 653.9,241.5Z" fill="#ffffff" stroke="#9dbfae" stroke-width="0.5"/><g font-family="Liberation Sans, sans-serif" font-weight="700" font-size="7" text-anchor="middle" letter-spacing="0.5"><text x="430.3" y="122.7" fill="#1f4373" stroke="#1f4373" stroke-width="0.25">29</text><text x="455.3" y="122.2" fill="#1f4373" stroke="#1f4373" stroke-width="0.25">22</text><text x="478.3" y="132.2" fill="#f3fbf0" stroke="#f3fbf0" stroke-width="0.25">35</text><text x="490.3" y="100.7" fill="#1f4373" stroke="#1f4373" stroke-width="0.25">50</text><text x="509.3" y="100.7" fill="#f3fbf0" stroke="#f3fbf0" stroke-width="0.25">14</text><text x="519.3" y="117.2" fill="#1f4373" stroke="#1f4373" stroke-width="0.25">61</text><text x="500.3" y="133.2" fill="#1f4373" stroke="#1f4373" stroke-width="0.25">53</text><text x="539.3" y="83.7" fill="#f3fbf0" stroke="#f3fbf0" stroke-width="0.25">76</text><text x="538.3" y="103.7" fill="#f3fbf0" stroke="#f3fbf0" stroke-width="0.25">27</text><text x="545.3" y="126.7" fill="#f3fbf0" stroke="#f3fbf0" stroke-width="0.25">28</text><text x="454.8" y="139.7" fill="#1f4373" stroke="#1f4373" stroke-width="0.25">56</text><text x="520.8" y="138.7" fill="#1f4373" stroke="#1f4373" stroke-width="0.25">72</text><text x="478.3" y="157.7" fill="#f3fbf0" stroke="#f3fbf0" stroke-width="0.25">44</text><text x="503.3" y="157.7" fill="#f3fbf0" stroke="#f3fbf0" stroke-width="0.25">49</text><text x="530.3" y="163.2" fill="#f3fbf0" stroke="#f3fbf0" stroke-width="0.25">37</text><text x="487.3" y="180.2" fill="#1f4373" stroke="#1f4373" stroke-width="0.25">85</text><text x="547.3" y="153.7" fill="#f3fbf0" stroke="#f3fbf0" stroke-width="0.25">41</text><text x="567.8" y="59.7" fill="#f3fbf0" stroke="#f3fbf0" stroke-width="0.25">62</text><text x="589.3" y="62.7" fill="#f3fbf0" stroke="#f3fbf0" stroke-width="0.25">59</text><text x="567.8" y="77.7" fill="#eef7d8" stroke="#eef7d8" stroke-width="0.25">80</text><text x="594.3" y="87.2" fill="#c9ffe0" stroke="#c9ffe0" stroke-width="0.25">02</text><text x="616.8" y="86.2" fill="#1f4373" stroke="#1f4373" stroke-width="0.25">08</text><text x="570.3" y="94.7" fill="#f3fbf0" stroke="#f3fbf0" stroke-width="0.25">60</text><text x="564.8" y="102.7" fill="#f3fbf0" stroke="#f3fbf0" stroke-width="0.25" font-size="5.5">95</text><text x="557.8" y="111.7" fill="#f3fbf0" stroke="#f3fbf0" stroke-width="0.25">78</text><text x="566.8" y="121.7" fill="#f3fbf0" stroke="#f3fbf0" stroke-width="0.25">91</text><text x="582.8" y="119.2" fill="#f3fbf0" stroke="#f3fbf0" stroke-width="0.25">77</text><text x="609.8" y="107.7" fill="#f3fbf0" stroke="#f3fbf0" stroke-width="0.25">51</text><text x="634.3" y="107.2" fill="#1f4373" stroke="#1f4373" stroke-width="0.25">55</text><text x="659.8" y="105.2" fill="#f3fbf0" stroke="#f3fbf0" stroke-width="0.25">57</text><text x="680.3" y="114.2" fill="#f3fbf0" stroke="#f3fbf0" stroke-width="0.25">67</text><text x="651.3" y="117.2" fill="#f3fbf0" stroke="#f3fbf0" stroke-width="0.25">54</text><text x="608.3" y="128.7" fill="#f3fbf0" stroke="#f3fbf0" stroke-width="0.25">10</text><text x="656.8" y="130.2" fill="#146a55" stroke="#146a55" stroke-width="0.25">88</text><text x="632.3" y="135.2" fill="#1f4373" stroke="#1f4373" stroke-width="0.25">52</text><text x="676.8" y="140.2" fill="#f3fbf0" stroke="#f3fbf0" stroke-width="0.25">68</text><text x="565.3" y="141.7" fill="#f3fbf0" stroke="#f3fbf0" stroke-width="0.25">45</text><text x="595.8" y="146.7" fill="#f3fbf0" stroke="#f3fbf0" stroke-width="0.25">89</text><text x="620.8" y="159.2" fill="#f3fbf0" stroke="#f3fbf0" stroke-width="0.25">21</text><text x="651.3" y="149.2" fill="#1f4373" stroke="#1f4373" stroke-width="0.25">70</text><text x="669.3" y="149.2" fill="#1f4373" stroke="#1f4373" stroke-width="0.25" font-size="5.5">90</text><text x="657.3" y="163.7" fill="#f3fbf0" stroke="#f3fbf0" stroke-width="0.25">25</text><text x="645.3" y="179.7" fill="#1f4373" stroke="#1f4373" stroke-width="0.25">39</text><text x="595.3" y="167.7" fill="#1f4373" stroke="#1f4373" stroke-width="0.25">58</text><text x="572.3" y="170.2" fill="#1f4373" stroke="#1f4373" stroke-width="0.25">18</text><text x="617.8" y="183.2" fill="#f3fbf0" stroke="#f3fbf0" stroke-width="0.25">71</text><text x="586.8" y="192.2" fill="#1f4373" stroke="#1f4373" stroke-width="0.25">03</text><text x="550.3" y="180.2" fill="#1f4373" stroke="#1f4373" stroke-width="0.25">36</text><text x="561.3" y="204.2" fill="#1f4373" stroke="#1f4373" stroke-width="0.25">23</text><text x="586.8" y="215.2" fill="#f3fbf0" stroke="#f3fbf0" stroke-width="0.25">63</text><text x="605.8" y="210.7" fill="#f3fbf0" stroke="#f3fbf0" stroke-width="0.25">42</text><text x="621.3" y="211.7" fill="#f3fbf0" stroke="#f3fbf0" stroke-width="0.25">69</text><text x="636.8" y="200.7" fill="#f3fbf0" stroke="#f3fbf0" stroke-width="0.25">01</text><text x="662.8" y="201.7" fill="#f3fbf0" stroke="#f3fbf0" stroke-width="0.25">74</text><text x="663.8" y="221.2" fill="#f3fbf0" stroke="#f3fbf0" stroke-width="0.25">73</text><text x="643.3" y="227.2" fill="#f3fbf0" stroke="#f3fbf0" stroke-width="0.25">38</text><text x="557.3" y="226.7" fill="#1f4373" stroke="#1f4373" stroke-width="0.25">19</text><text x="507.3" y="185.2" fill="#1f4373" stroke="#1f4373" stroke-width="0.25">79</text><text x="526.3" y="187.2" fill="#1f4373" stroke="#1f4373" stroke-width="0.25">86</text><text x="498.8" y="210.7" fill="#1f4373" stroke="#1f4373" stroke-width="0.25">17</text><text x="517.8" y="213.7" fill="#1f4373" stroke="#1f4373" stroke-width="0.25">16</text><text x="541.8" y="210.7" fill="#1f4373" stroke="#1f4373" stroke-width="0.25">87</text><text x="501.3" y="244.2" fill="#f3fbf0" stroke="#f3fbf0" stroke-width="0.25">33</text><text x="530.8" y="235.2" fill="#1f4373" stroke="#1f4373" stroke-width="0.25">24</text><text x="523.3" y="258.7" fill="#1f4373" stroke="#1f4373" stroke-width="0.25">47</text><text x="494.3" y="270.2" fill="#1f4373" stroke="#1f4373" stroke-width="0.25">40</text><text x="523.3" y="280.2" fill="#1f4373" stroke="#1f4373" stroke-width="0.25">32</text><text x="542.3" y="269.2" fill="#1f4373" stroke="#1f4373" stroke-width="0.25">82</text><text x="493.8" y="294.2" fill="#1f4373" stroke="#1f4373" stroke-width="0.25">64</text><text x="514.8" y="301.7" fill="#1f4373" stroke="#1f4373" stroke-width="0.25">65</text><text x="545.3" y="286.7" fill="#f3fbf0" stroke="#f3fbf0" stroke-width="0.25">31</text><text x="550.3" y="250.7" fill="#1f4373" stroke="#1f4373" stroke-width="0.25">46</text><text x="575.3" y="235.7" fill="#1f4373" stroke="#1f4373" stroke-width="0.25">15</text><text x="603.3" y="235.2" fill="#f3fbf0" stroke="#f3fbf0" stroke-width="0.25">43</text><text x="616.8" y="248.2" fill="#f3fbf0" stroke="#f3fbf0" stroke-width="0.25">07</text><text x="634.3" y="249.7" fill="#f3fbf0" stroke="#f3fbf0" stroke-width="0.25">26</text><text x="662.3" y="247.2" fill="#1f4373" stroke="#1f4373" stroke-width="0.25">05</text><text x="595.3" y="254.2" fill="#1f4373" stroke="#1f4373" stroke-width="0.25">48</text><text x="576.3" y="262.7" fill="#1f4373" stroke="#1f4373" stroke-width="0.25">12</text><text x="612.8" y="271.2" fill="#f3fbf0" stroke="#f3fbf0" stroke-width="0.25">30</text><text x="636.8" y="270.7" fill="#f3fbf0" stroke="#f3fbf0" stroke-width="0.25">84</text><text x="660.8" y="267.2" fill="#1f4373" stroke="#1f4373" stroke-width="0.25">04</text><text x="685.3" y="272.2" fill="#f3fbf0" stroke="#f3fbf0" stroke-width="0.25">06</text><text x="563.3" y="278.2" fill="#f3fbf0" stroke="#f3fbf0" stroke-width="0.25">81</text><text x="593.8" y="286.7" fill="#f3fbf0" stroke="#f3fbf0" stroke-width="0.25">34</text><text x="630.8" y="282.2" fill="#f3fbf0" stroke="#f3fbf0" stroke-width="0.25">13</text><text x="663.8" y="288.7" fill="#f3fbf0" stroke="#f3fbf0" stroke-width="0.25">83</text><text x="570.3" y="300.7" fill="#1f4373" stroke="#1f4373" stroke-width="0.25">11</text><text x="547.8" y="306.7" fill="#1f4373" stroke="#1f4373" stroke-width="0.25">09</text><text x="573.8" y="317.7" fill="#f3fbf0" stroke="#f3fbf0" stroke-width="0.25">66</text></g></g>
<g id="leftmap"><g transform="matrix(1.01940 -0.01920 -0.00790 1.03043 -407.321 14.398)" stroke-linejoin="round"><path d="M412.2,110.2 413.2,113.1 420.1,115.2 414.2,120.9 422.1,124.9 416.3,128.7 420.2,132.6 430.0,133.8 437.9,131.0 439.9,135.9 445.8,141.8 452.7,143.9 459.6,147.0 459.6,148.9 462.6,155.7 467.5,159.7 466.5,160.7 467.6,165.5 469.6,171.4 473.5,179.2 479.5,185.2 485.4,188.2 489.3,189.2 487.4,190.2 488.4,196.0 485.5,197.9 487.5,204.7 489.5,212.5 492.5,215.5 497.4,220.4 499.4,225.3 496.5,223.3 491.5,218.4 488.5,214.5 487.7,227.1 486.7,234.8 486.8,237.7 488.7,241.6 485.8,242.5 484.9,250.3 482.0,261.9 480.2,271.6 478.3,280.7 477.3,282.2 471.4,286.0 473.4,288.9 478.3,290.9 480.3,294.9 488.2,297.9 494.1,300.9 499.1,305.9 504.9,304.0 509.9,309.0 517.7,311.1 525.6,310.3 528.5,310.3 529.5,304.5 534.4,303.6 539.3,308.6 549.1,311.7 557.0,316.7 562.9,321.6 570.8,322.7 576.7,319.9 584.5,320.1 588.4,319.2 586.4,312.4 585.4,306.5 586.3,298.8 588.2,292.5 592.2,294.0 598.0,291.2 605.8,287.5 612.7,285.7 619.6,284.8 625.5,289.8 631.3,288.0 636.3,291.9 642.2,291.1 645.1,294.0 652.0,295.1 655.0,299.1 660.9,298.2 668.7,296.4 674.6,293.6 676.5,288.8 679.4,285.9 681.3,281.1 686.2,278.3 692.1,274.5 695.0,269.7 695.9,263.0 689.0,263.8 682.1,260.8 675.3,257.7 678.2,252.9 676.2,247.1 679.1,241.3 676.0,233.5 672.1,229.5 676.0,227.7 680.9,222.9 679.8,217.0 673.9,209.2 672.9,206.7 675.8,204.4 675.8,197.6 670.8,194.6 668.8,189.7 663.9,188.6 657.1,191.4 652.2,194.2 650.2,191.3 652.2,190.3 653.1,185.5 655.0,180.7 659.0,179.8 663.8,172.1 669.6,166.4 673.5,158.7 674.5,154.8 678.4,152.0 683.2,147.2 683.2,137.5 683.1,127.8 685.0,121.1 686.9,114.3 690.8,106.6 693.6,98.9 682.9,99.7 677.9,95.7 673.0,95.6 665.2,94.5 658.2,88.5 653.3,84.6 645.5,85.4 639.6,83.3 636.6,85.2 633.7,83.2 631.7,79.3 625.8,77.3 621.8,72.3 621.8,65.5 619.8,63.6 615.9,69.3 608.1,70.1 606.6,68.2 608.0,62.4 606.0,57.5 596.2,58.3 594.2,53.4 587.3,51.3 583.3,43.5 578.5,46.3 573.5,41.4 571.5,33.6 562.7,35.3 557.8,36.7 552.9,38.1 551.0,41.9 551.0,46.8 552.0,52.6 551.6,57.4 553.1,60.4 551.1,64.2 545.3,67.0 539.4,69.8 533.5,72.6 527.7,75.4 523.8,78.3 519.9,83.1 522.9,85.5 524.8,88.5 519.9,88.9 514.1,90.7 508.2,89.6 502.3,88.5 498.3,87.5 493.4,86.4 492.4,80.6 490.4,75.7 486.5,74.7 482.6,75.6 479.6,74.5 475.7,73.5 477.7,82.3 481.7,92.0 483.7,101.8 484.8,106.7 485.8,112.5 482.8,111.5 474.0,109.4 469.1,110.3 463.2,109.2 456.3,111.0 452.4,105.1 446.5,100.1 439.6,101.9 438.6,105.8 435.7,103.8 429.8,103.7 422.0,104.5 414.1,107.3Z" fill="#3a2c0c" stroke="#3a2c0c" stroke-width="0.5"/><path d="M507.5,225.5 499.2,223.8 498.5,223.0 499.4,225.3 496.5,223.3 491.5,218.4 488.5,214.5 486.7,234.8 486.8,237.7 488.7,241.6 485.8,242.5 485.0,249.4 491.9,251.4 497.1,250.8 498.6,249.4 504.6,256.3 504.6,256.9 508.1,259.0 509.8,261.3 512.4,257.6 515.4,250.7 519.2,244.2 520.2,243.2 516.9,236.9 516.1,226.6 512.7,228.8 511.9,227.8Z" fill="#000000" stroke="#d8d8d8" stroke-width="0.55"/><path d="M551.7,56.3 558.5,59.4 569.6,62.9 577.3,67.0 577.7,66.7 581.5,66.7 583.4,64.8 584.3,64.7 583.6,59.4 584.0,58.6 579.7,54.6 576.8,46.4 566.3,42.0 566.3,41.4 563.6,35.1 552.9,38.1 551.0,41.9 551.0,46.8 552.0,52.6Z" fill="#000000" stroke="#d8d8d8" stroke-width="0.55"/><path d="M532.8,290.0 525.5,289.9 526.8,293.4 527.7,294.0 524.1,302.5 524.7,303.2 525.6,310.3 528.5,310.3 529.5,304.5 533.8,303.7 537.4,296.5 550.7,291.0 551.3,291.6 555.0,292.4 556.4,287.7 558.8,286.6 559.3,286.0 558.8,283.8 556.4,284.2 552.5,280.3 550.8,273.0 546.8,270.8 540.1,274.7 541.7,281.3 542.4,282.0 538.5,287.0Z" fill="#000000" stroke="#d8d8d8" stroke-width="0.55"/><path d="M544.5,110.6 543.9,110.3 537.4,112.3 536.6,112.0 535.8,112.4 535.9,120.5 533.4,120.6 531.9,122.0 535.7,127.4 537.0,131.0 543.5,134.3 550.6,136.1 555.8,132.0 559.5,126.4 560.5,117.8 554.7,114.2 550.4,105.8Z" fill="#000000" stroke="#d8d8d8" stroke-width="0.55"/><path d="M550.5,105.8 554.7,114.2 560.5,117.8 564.1,115.6 564.7,115.8 566.3,113.4 566.0,111.6 566.8,110.3 565.2,107.4 565.8,104.6 565.5,103.4 564.8,102.8 563.6,102.7 562.3,104.1 556.0,102.9 556.1,101.2 555.4,100.0 556.8,97.6 556.5,97.1 553.7,97.4 550.6,101.2 551.1,102.0Z" fill="#000000" stroke="#d8d8d8" stroke-width="0.55"/><path d="M571.3,130.8 559.5,126.4 555.8,132.0 550.6,136.1 552.1,140.4 551.9,141.2 558.4,146.5 564.6,149.9 571.5,149.9 581.3,151.2 581.1,143.5 584.5,134.5 584.0,134.0 584.0,129.8 575.9,129.7Z" fill="#000000" stroke="#d8d8d8" stroke-width="0.55"/><path d="M556.8,97.6 555.4,100.0 556.1,101.2 556.0,102.9 562.3,104.1 563.6,102.7 564.8,102.8 565.5,103.4 573.1,102.5 574.0,101.6 573.9,97.2 572.8,97.5 558.7,94.9 557.5,92.9 555.0,93.8Z" fill="#000000" stroke="#d8d8d8" stroke-width="0.55"/><path d="M564.1,115.6 560.4,118.0 559.5,126.3 571.3,130.7 572.2,120.4 572.1,114.9 576.5,113.0 574.3,111.2 570.3,112.2 566.7,110.9 566.0,111.6 566.3,113.4 564.7,115.8Z" fill="#000000" stroke="#d8d8d8" stroke-width="0.55"/><path d="M561.1,310.3 562.9,308.5 564.1,309.6 563.1,310.8 563.4,312.1 558.5,317.9 562.9,321.6 570.8,322.7 576.7,319.9 584.5,320.1 588.4,319.2 586.4,312.4 585.4,306.5 578.3,306.4 569.5,307.2 566.3,311.7 564.9,311.3 564.5,309.8 565.5,309.1 564.1,307.2 560.7,305.5 559.9,305.8 560.6,306.8Z" fill="#000000" stroke="#d8d8d8" stroke-width="0.55"/><path d="M566.3,41.4 566.3,42.0 576.8,46.4 579.7,54.6 584.0,58.6 583.6,59.4 584.7,68.1 587.1,67.3 595.3,69.0 606.6,68.1 608.0,62.4 606.0,57.5 596.2,58.3 594.2,53.4 587.3,51.3 583.3,43.5 578.5,46.3 573.5,41.4 571.5,33.6 563.6,35.1Z" fill="#000000" stroke="#d8d8d8" stroke-width="0.55"/><path d="M565.4,107.5 566.8,110.3 566.7,110.9 570.3,112.2 570.4,108.9 568.9,108.5 568.7,107.7 569.2,105.7 569.6,105.3 569.3,102.9 565.5,103.4 565.8,104.6Z" fill="#000000" stroke="#d8d8d8" stroke-width="0.55"/><path d="M568.9,108.5 570.4,108.9 572.0,106.9 570.7,105.7 569.6,105.3 569.2,105.7 568.7,107.7Z" fill="#000000" stroke="#d8d8d8" stroke-width="0.55"/><path d="M575.6,97.9 574.0,97.2 574.0,101.6 573.1,102.5 574.6,106.5 574.3,111.2 576.5,113.0 572.1,114.9 572.2,120.4 571.3,130.8 575.9,129.7 584.0,129.8 585.0,128.8 583.8,125.2 589.0,124.4 592.9,123.2 592.8,117.9 593.8,111.9 593.8,109.2 594.2,109.1 595.3,106.5 588.5,100.2 586.4,97.2 585.3,98.2 583.0,98.8Z" fill="#000000" stroke="#d8d8d8" stroke-width="0.55"/><path d="M570.4,108.9 570.5,112.1 574.3,111.2 574.5,106.6 572.0,106.9Z" fill="#000000" stroke="#d8d8d8" stroke-width="0.55"/><path d="M570.7,105.7 572.0,106.9 574.6,106.5 573.1,102.5 569.3,102.9 569.6,105.3Z" fill="#000000" stroke="#d8d8d8" stroke-width="0.55"/><path d="M588.0,275.5 582.2,280.1 578.3,282.1 577.8,285.8 578.1,286.6 577.6,287.2 577.3,289.8 579.1,289.9 583.5,292.6 584.2,292.2 588.1,293.0 588.2,292.5 592.6,293.8 605.8,287.5 612.5,285.7 613.3,281.6 614.2,280.4 604.0,270.1 598.0,267.3 597.4,267.6 594.4,272.6 593.6,272.5Z" fill="#000000" stroke="#d8d8d8" stroke-width="0.55"/><path d="M627.3,273.4 622.5,277.9 619.6,284.8 625.5,289.8 631.3,288.0 636.3,291.9 642.2,291.1 645.1,294.0 652.0,295.1 650.1,278.1 649.5,276.7 645.7,277.6 636.9,277.4 630.7,271.7 629.5,269.4Z" fill="#000000" stroke="#d8d8d8" stroke-width="0.55"/><path d="M596.4,91.5 594.3,104.0 593.4,105.0 595.3,106.5 594.2,109.1 593.8,109.2 593.8,111.9 592.8,117.8 594.8,118.0 596.0,116.7 605.4,113.2 606.1,112.6 612.9,116.9 613.5,118.1 620.5,115.9 621.0,116.1 625.1,114.3 626.0,110.2 625.9,100.0 626.9,92.9 622.6,92.7 613.8,89.5 606.9,89.5 605.9,88.5 603.4,88.8Z" fill="#000000" stroke="#d8d8d8" stroke-width="0.55"/><path d="M608.6,257.3 607.0,264.1 598.4,265.9 598.9,260.4 596.0,264.8 598.1,266.2 598.0,267.3 604.0,270.1 614.2,280.4 613.3,281.6 612.5,285.7 619.6,284.8 622.5,277.9 627.3,273.4 629.3,269.4 626.2,260.7 618.8,259.9Z" fill="#000000" stroke="#d8d8d8" stroke-width="0.55"/><path d="M614.9,195.4 616.7,205.6 623.7,219.4 625.2,219.1 629.4,216.1 630.5,216.1 632.7,209.5 626.8,204.5 625.7,193.7 618.4,192.6 618.1,193.1Z" fill="#000000" stroke="#d8d8d8" stroke-width="0.55"/><path d="M632.7,209.4 630.5,216.1 629.4,216.1 625.2,219.1 623.8,219.4 624.7,222.0 625.2,222.3 626.9,225.7 640.7,227.0 644.9,235.3 644.5,235.7 643.7,239.7 648.1,240.2 648.2,241.6 650.6,242.7 660.8,236.8 660.4,235.8 660.3,228.4 658.0,221.5 656.4,222.0 652.0,220.8 651.1,221.1 645.3,214.4 643.9,214.0 641.9,209.0 641.9,206.3 636.3,207.6Z" fill="#000000" stroke="#d8d8d8" stroke-width="0.55"/><path d="M626.3,260.8 629.2,269.4 630.7,271.7 636.9,277.4 645.7,277.6 649.5,276.7 649.9,275.6 645.9,269.8 647.9,263.0 637.3,261.1 629.7,256.6Z" fill="#000000" stroke="#d8d8d8" stroke-width="0.55"/><path d="M656.6,209.4 650.9,207.9 649.5,211.1 647.1,210.3 644.2,213.9 645.3,214.4 651.1,221.1 652.0,220.8 656.4,222.0 658.0,221.5 660.3,229.1 672.1,229.5 676.0,227.7 680.9,222.9 679.8,217.0 673.9,209.2 673.2,207.5 665.6,205.5 664.6,204.6 657.6,210.3Z" fill="#000000" stroke="#d8d8d8" stroke-width="0.55"/><path d="M647.3,203.1 646.6,209.5 647.1,210.3 649.5,211.1 650.9,207.9 656.6,209.4 657.6,210.3 664.6,204.6 665.6,205.5 673.2,207.5 672.9,206.7 675.8,204.4 675.8,197.6 670.8,194.6 668.8,189.7 663.9,188.6 657.1,191.4 656.4,192.9 650.5,195.6Z" fill="#000000" stroke="#d8d8d8" stroke-width="0.55"/><path d="M650.1,278.1 652.0,295.1 655.0,299.1 660.9,298.2 668.7,296.4 674.6,293.6 676.5,288.8 679.4,285.9 681.0,281.8 674.9,275.6 676.0,274.2 676.3,271.3 667.7,275.5 659.6,277.6 659.2,277.9 649.9,275.7 649.5,276.7Z" fill="#000000" stroke="#d8d8d8" stroke-width="0.55"/><path d="M671.7,132.7 672.4,140.3 676.2,146.7 677.8,152.4 683.2,147.2 683.1,128.4 680.9,128.0 674.2,125.7Z" fill="#000000" stroke="#d8d8d8" stroke-width="0.55"/><path d="M675.1,107.3 673.1,113.9 674.9,117.6 674.4,118.2 675.3,121.4 674.2,125.7 680.9,128.0 683.1,128.4 686.9,114.3 690.8,106.6 693.6,98.9 682.9,99.7 677.9,95.7 676.9,95.7 671.3,101.2 665.7,101.0Z" fill="#000000" stroke="#d8d8d8" stroke-width="0.55"/><path d="M675.5,255.4 675.3,257.7 677.0,254.9ZM675.3,257.7 674.2,267.5 674.9,267.9 676.4,271.3 676.0,274.2 674.9,275.6 681.0,281.8 681.3,281.1 692.1,274.5 695.0,269.7 695.9,263.0 689.0,263.8Z" fill="#000000" stroke="#d8d8d8" stroke-width="0.55"/><path d="M504.4,280.7 488.9,281.5 477.9,281.2 477.3,282.2 471.4,286.0 473.4,288.9 478.3,290.9 480.3,294.9 488.2,297.9 494.1,300.9 499.1,305.9 504.7,304.1 505.9,299.1 509.9,291.3 512.6,284.8 512.6,283.8 508.7,279.8Z" fill="#80820c" stroke="#2a2008" stroke-width="0.95"/><path d="M439.7,112.2 438.7,105.5 438.6,105.8 435.7,103.8 429.8,103.7 422.0,104.5 414.1,107.3 412.2,110.2 413.2,113.1 420.1,115.2 414.2,120.9 422.1,124.9 416.3,128.7 420.2,132.6 430.0,133.8 437.9,131.0 438.8,133.2 440.0,129.7 439.2,129.1 435.8,124.1 437.8,120.9 439.3,121.1 439.7,120.0Z" fill="#80820c" stroke="#2a2008" stroke-width="0.95"/><path d="M439.7,112.2 439.7,120.0 439.3,121.1 437.8,120.9 435.8,124.1 440.2,124.1 440.5,122.7 442.6,122.1 443.0,122.6 448.6,123.5 454.4,125.0 461.8,128.8 462.3,129.7 466.4,129.1 469.2,128.0 473.3,122.1 474.1,121.8 473.7,109.4 469.1,110.3 463.2,109.2 456.3,111.0 452.4,105.1 446.5,100.1 439.6,101.9 438.7,105.5Z" fill="#80820c" stroke="#2a2008" stroke-width="0.95"/><path d="M478.4,139.1 471.3,141.4 469.4,145.2 466.9,146.4 466.7,146.9 459.6,147.9 459.6,148.9 462.6,155.7 467.5,159.7 466.5,160.7 472.2,165.1 476.7,167.7 477.4,169.0 483.1,166.9 489.6,163.0 490.8,156.3 490.6,155.8 493.2,152.2 494.8,151.1 489.5,144.0 489.7,143.6 488.9,139.7 481.7,138.4 481.3,138.9Z" fill="#80820c" stroke="#2a2008" stroke-width="0.95"/><path d="M473.7,109.4 474.1,121.8 473.3,122.1 469.3,127.6 468.4,134.6 468.1,135.0 471.3,141.4 478.4,139.1 481.3,138.9 481.7,138.4 488.8,139.7 490.1,139.4 493.8,133.3 493.7,123.9 492.8,117.3 492.0,116.7 491.7,115.5 487.9,115.6 485.8,112.5 482.8,111.5Z" fill="#80820c" stroke="#2a2008" stroke-width="0.95"/><path d="M496.6,187.6 489.3,189.2 487.4,190.2 488.4,196.0 485.5,197.9 489.5,212.5 497.4,220.4 498.5,223.0 499.2,223.8 507.5,225.5 511.9,227.8 512.7,228.8 516.1,226.6 513.1,223.6 504.9,210.3 505.9,209.6 506.9,207.4 511.0,201.2 510.9,200.3 505.0,195.3 501.2,188.7 501.4,188.0 501.1,187.6Z" fill="#80820c" stroke="#2a2008" stroke-width="0.95"/><path d="M526.8,86.1 527.2,85.8 537.7,91.2 546.1,88.2 546.5,88.5 553.0,89.5 554.3,89.3 556.1,76.8 555.2,69.4 552.2,62.1 551.1,64.2 527.7,75.4 523.8,78.3 519.9,83.1 523.2,86.0Z" fill="#80820c" stroke="#2a2008" stroke-width="0.95"/><path d="M493.4,86.4 494.7,93.5 494.3,93.8 493.5,102.6 494.3,102.9 496.5,105.9 500.8,105.8 503.9,106.2 515.7,103.4 525.9,101.7 525.9,94.8 525.0,89.4 523.5,88.6 519.9,88.9 514.1,90.7 502.3,88.5Z" fill="#80820c" stroke="#2a2008" stroke-width="0.95"/><path d="M552.2,62.1 555.2,69.4 556.1,76.9 566.5,77.9 577.6,82.5 578.3,81.6 585.6,79.3 585.7,74.7 584.5,67.9 584.3,64.7 583.4,64.8 581.5,66.7 577.7,66.7 577.3,67.0 569.6,62.9 558.5,59.4 551.7,56.3 551.6,57.4 553.1,60.4Z" fill="#80820c" stroke="#2a2008" stroke-width="0.95"/><path d="M556.1,76.9 554.2,89.3 555.1,93.6 557.5,92.9 558.7,94.9 566.6,96.5 572.8,97.5 573.9,97.2 575.6,97.9 583.0,98.8 585.3,98.2 586.4,97.2 586.6,96.4 582.4,90.5 582.9,89.9 584.7,79.5 578.3,81.6 577.6,82.5 566.5,77.9Z" fill="#80820c" stroke="#2a2008" stroke-width="0.95"/><path d="M575.7,198.6 575.8,202.8 572.0,209.1 571.9,210.1 573.9,220.0 590.6,224.1 594.2,222.8 594.5,222.3 607.2,222.5 605.7,218.5 601.7,210.5 601.2,210.2 602.3,203.0 592.6,200.7 582.3,194.7 576.7,197.2Z" fill="#80820c" stroke="#2a2008" stroke-width="0.95"/><path d="M636.1,84.9 641.1,95.0 643.7,103.6 642.7,112.3 642.8,119.3 652.3,122.0 652.7,122.6 664.4,120.0 671.7,117.7 673.6,118.3 674.4,118.2 674.9,117.6 673.1,113.9 669.2,113.0 661.1,109.9 657.6,105.1 649.8,101.7 649.7,100.9 648.5,99.3 647.6,99.0 646.4,85.3 645.5,85.4 639.6,83.3 636.6,85.2Z" fill="#80820c" stroke="#2a2008" stroke-width="0.95"/><path d="M646.4,85.3 647.6,99.0 648.5,99.3 649.7,100.9 649.8,101.7 657.6,105.1 661.1,109.9 669.2,113.0 672.8,114.0 673.3,113.7 675.1,107.3 665.7,101.0 671.3,101.2 676.9,95.7 673.0,95.6 665.2,94.5 653.3,84.6Z" fill="#80820c" stroke="#2a2008" stroke-width="0.95"/><path d="M585.7,74.7 585.6,79.3 584.7,79.5 582.9,89.9 582.4,90.5 586.6,96.4 586.4,97.2 588.5,100.2 593.5,104.7 594.3,104.0 596.4,91.5 603.4,88.8 605.9,88.5 604.9,85.5 606.0,84.8 608.2,79.7 607.1,68.8 606.6,68.1 595.3,69.0 587.1,67.3 584.7,68.1Z" fill="#80820c" stroke="#2a2008" stroke-width="0.95"/><path d="M605.0,192.9 602.4,201.4 602.7,202.7 602.2,203.1 601.2,210.2 601.7,210.5 605.7,218.5 607.2,222.5 617.1,224.6 622.5,224.0 622.7,223.2 624.7,222.0 623.8,219.4 616.7,205.6 614.9,195.4 608.0,193.1 608.4,191.5 606.2,188.4 604.6,192.4Z" fill="#80820c" stroke="#2a2008" stroke-width="0.95"/><path d="M626.9,225.7 628.1,241.3 626.6,255.7 625.6,258.8 626.2,260.7 628.3,258.7 629.7,256.6 637.3,261.1 647.6,263.0 648.4,262.6 644.7,258.0 650.3,245.0 647.8,244.7 646.7,243.5 645.7,243.8 643.5,239.7 644.5,235.7 644.9,235.3 640.7,227.0Z" fill="#80820c" stroke="#2a2008" stroke-width="0.95"/><path d="M640.1,158.2 639.3,162.4 637.3,169.7 638.4,183.1 637.4,187.1 642.7,190.9 643.2,192.3 650.2,191.3 652.2,190.3 653.1,185.5 655.0,180.7 654.0,173.7 645.7,161.6 646.1,161.0 646.0,157.2Z" fill="#80820c" stroke="#2a2008" stroke-width="0.95"/><path d="M644.8,138.8 640.9,145.7 637.1,148.3 639.5,154.2 640.2,158.2 646.0,157.2 654.7,152.8 665.5,149.8 669.6,149.9 667.4,145.8 668.3,144.9 667.8,142.4 670.9,142.3 672.4,140.3 662.4,138.4 651.2,134.8 650.7,135.6Z" fill="#80820c" stroke="#2a2008" stroke-width="0.95"/><path d="M504.6,256.3 498.6,249.4 497.1,250.8 491.9,251.4 485.0,249.4 477.9,281.2 488.9,281.5 504.4,280.7 508.7,279.8 508.1,276.8 505.8,274.9 511.4,272.2 513.0,272.6 515.5,265.6 513.6,261.3 513.0,257.9 512.4,257.6 509.8,261.3 508.1,259.0 504.6,256.9Z" fill="#b2570f" stroke="#2a2008" stroke-width="0.95"/><path d="M512.6,284.8 505.9,299.1 504.7,304.1 509.9,309.0 517.7,311.1 525.6,310.3 524.7,303.2 524.1,302.5 527.7,294.0 526.8,293.4 525.5,289.9 518.9,288.1 518.5,288.3Z" fill="#b2570f" stroke="#2a2008" stroke-width="0.95"/><path d="M518.8,196.6 510.9,200.3 511.0,201.2 506.9,207.4 505.9,209.6 504.9,210.3 513.1,223.6 516.1,226.6 523.7,220.3 526.7,215.6 526.7,214.8 532.7,211.4 532.6,207.4 535.6,203.0 536.5,202.7 536.4,193.0 529.3,195.7Z" fill="#b2570f" stroke="#2a2008" stroke-width="0.95"/><path d="M537.4,257.3 533.0,263.7 535.6,269.6 535.5,270.1 540.1,274.7 546.8,270.8 550.8,273.0 554.0,264.2 555.3,264.3 560.6,261.4 560.4,255.6 557.2,257.8 557.0,258.3 545.6,260.4 545.2,258.6 540.8,254.2Z" fill="#b2570f" stroke="#2a2008" stroke-width="0.95"/><path d="M560.6,261.4 555.3,264.3 554.0,264.2 550.8,273.0 552.5,280.3 556.4,284.2 558.8,283.8 559.3,286.0 564.6,287.2 565.2,288.1 574.7,285.2 578.0,282.0 578.3,282.1 582.2,280.1 588.1,275.6 581.4,273.2 576.2,271.9 575.2,272.3 567.2,264.2 567.1,263.7Z" fill="#b2570f" stroke="#2a2008" stroke-width="0.95"/><path d="M592.2,294.0 592.6,293.8 590.6,293.4ZM555.0,292.4 561.6,301.3 560.5,302.3 559.9,305.8 560.7,305.5 564.1,307.2 565.5,309.1 564.5,309.8 564.9,311.3 566.3,311.7 569.5,307.2 578.3,306.4 585.4,306.5 586.3,298.8 588.1,293.0 584.2,292.2 583.5,292.6 579.1,289.9 577.3,289.8 577.6,287.2 578.1,286.6 577.8,285.8 578.3,282.2 578.0,282.0 574.7,285.2 565.2,288.1 564.6,287.2 559.3,286.0 558.8,286.6 556.4,287.7Z" fill="#b2570f" stroke="#2a2008" stroke-width="0.95"/><path d="M577.0,245.0 567.2,247.1 560.4,255.6 560.6,261.4 567.1,263.7 567.2,264.2 575.2,272.3 576.2,271.9 581.4,273.2 588.0,275.5 593.6,272.5 594.4,272.6 597.4,267.6 598.0,267.3 598.1,266.2 594.5,263.8 588.3,254.3 588.6,253.7 586.9,244.6 578.7,237.4 578.3,241.4 577.0,243.6Z" fill="#b2570f" stroke="#2a2008" stroke-width="0.95"/><path d="M590.6,224.3 592.2,231.0 593.1,231.6 590.8,238.4 597.3,241.7 607.4,241.9 614.8,235.7 621.1,228.5 616.9,226.9 617.0,224.6 607.2,222.5 594.5,222.3 594.2,222.8Z" fill="#b2570f" stroke="#2a2008" stroke-width="0.95"/><path d="M605.4,113.2 596.0,116.7 594.8,118.0 592.8,117.9 592.9,123.3 601.1,133.6 601.7,133.5 609.6,136.8 610.2,136.6 612.5,140.1 618.4,138.3 620.3,134.6 622.9,126.7 623.4,126.2 620.5,117.7 620.7,116.1 613.5,118.1 612.9,116.9 606.1,112.6Z" fill="#b2570f" stroke="#2a2008" stroke-width="0.95"/><path d="M607.1,176.9 604.1,180.5 603.4,180.3 600.9,182.4 606.2,188.4 608.4,191.5 608.0,193.1 614.8,195.4 618.1,193.1 618.4,192.6 625.7,193.7 629.5,182.4 631.5,185.7 637.4,187.1 638.4,183.1 637.3,169.7 629.9,169.5 624.5,170.9 623.5,172.0 615.9,166.8 608.8,164.4 606.6,172.1 606.9,172.4Z" fill="#b2570f" stroke="#2a2008" stroke-width="0.95"/><path d="M616.9,226.9 621.1,228.5 614.8,235.7 607.4,241.9 608.5,249.6 608.5,257.3 618.8,259.9 626.2,260.7 625.6,258.8 626.6,255.7 628.1,241.3 626.9,225.7 625.2,222.3 624.7,222.0 622.7,223.2 622.5,224.0 617.1,224.6Z" fill="#b2570f" stroke="#2a2008" stroke-width="0.95"/><path d="M618.1,138.4 612.5,140.1 611.9,147.3 609.1,152.6 607.8,156.4 608.8,164.4 615.9,166.8 623.5,172.0 624.5,170.9 629.9,169.5 637.3,169.7 640.2,158.2 639.5,154.2 637.1,148.3 633.7,147.6 632.8,147.9 625.6,139.5 624.5,139.9Z" fill="#b2570f" stroke="#2a2008" stroke-width="0.95"/><path d="M625.7,193.7 626.8,204.5 632.7,209.4 636.3,207.6 641.9,206.3 641.9,209.0 643.9,214.0 647.1,210.3 646.6,209.5 647.3,203.1 650.5,195.6 656.4,192.9 657.0,191.5 652.2,194.2 650.2,191.3 643.2,192.3 642.7,190.9 637.4,187.1 631.5,185.7 629.5,182.4Z" fill="#b2570f" stroke="#2a2008" stroke-width="0.95"/><path d="M654.7,152.8 646.0,157.2 646.1,161.0 645.7,161.6 654.0,173.7 655.0,180.7 659.0,179.8 663.8,172.1 669.6,166.4 673.5,158.7 674.5,154.8 675.9,153.8 669.6,149.9 665.5,149.8Z" fill="#b2570f" stroke="#2a2008" stroke-width="0.95"/><path d="M651.4,257.4 644.7,258.0 648.4,262.6 647.9,263.0 645.9,269.8 649.9,275.7 659.2,277.9 659.6,277.6 667.7,275.5 676.3,271.3 674.9,267.9 674.2,267.5 675.5,255.4 677.0,254.9 678.2,252.9 676.2,247.1 670.3,250.8 662.2,252.3 661.6,252.0 652.0,257.7Z" fill="#b2570f" stroke="#2a2008" stroke-width="0.95"/><path d="M515.3,265.7 513.0,272.6 511.4,272.2 505.8,274.9 508.1,276.8 508.7,279.9 512.6,283.8 512.6,284.8 518.5,288.3 518.9,288.1 525.5,289.9 532.8,290.0 538.5,287.0 542.4,282.0 541.7,281.3 540.1,274.7 535.5,270.1 535.6,269.6 533.0,263.7 526.2,266.2 525.9,266.7 515.7,265.5Z" fill="#f89b4c" stroke="#2a2008" stroke-width="0.95"/><path d="M513.4,118.9 509.3,134.0 508.5,142.0 514.1,145.9 520.4,148.1 533.2,143.4 535.5,136.4 536.0,131.9 537.0,131.0 535.7,127.4 531.9,122.0 526.1,118.1 517.3,119.9Z" fill="#f89b4c" stroke="#2a2008" stroke-width="0.95"/><path d="M526.7,215.6 523.7,220.3 516.1,226.6 516.9,236.9 520.2,243.2 526.7,246.3 535.5,245.3 535.9,246.2 538.8,248.4 544.4,243.2 549.4,234.2 546.0,227.2 546.2,226.8 544.5,219.4 538.1,216.1 532.6,211.4 526.7,214.8Z" fill="#f89b4c" stroke="#2a2008" stroke-width="0.95"/><path d="M533.2,143.4 520.4,148.1 520.4,149.0 518.4,155.2 517.6,161.3 522.8,166.9 528.8,168.8 534.5,171.1 534.4,172.4 536.5,175.9 537.3,175.5 540.7,168.8 540.6,168.4 546.0,163.2 541.4,157.3 538.7,151.6 536.0,144.4 534.3,144.5Z" fill="#f89b4c" stroke="#2a2008" stroke-width="0.95"/><path d="M544.4,243.2 538.8,248.4 540.9,253.5 540.8,254.2 545.2,258.6 545.6,260.4 557.0,258.3 557.2,257.8 560.4,255.6 567.3,247.0 564.9,241.1 565.3,240.5 565.1,234.3 555.9,237.2 555.5,236.7 549.4,234.0Z" fill="#f89b4c" stroke="#2a2008" stroke-width="0.95"/><path d="M592.9,123.2 583.8,125.2 585.0,128.8 584.0,129.8 584.0,134.0 584.5,134.5 581.1,143.5 581.3,151.1 591.7,152.4 600.4,156.4 607.8,156.4 609.1,152.6 611.9,147.3 612.5,140.1 610.2,136.6 609.6,136.8 601.7,133.5 601.1,133.6Z" fill="#f89b4c" stroke="#2a2008" stroke-width="0.95"/><path d="M487.9,115.6 491.7,115.5 500.6,110.8 500.7,110.4 499.4,109.5 496.3,106.4 496.5,105.9 494.3,102.9 493.5,102.6 494.3,93.8 494.7,93.5 492.4,80.6 490.4,75.7 486.5,74.7 482.6,75.6 475.7,73.5 477.7,82.3 481.7,92.0 485.8,112.5Z" fill="#ffff12" stroke="#2a2008" stroke-width="0.95"/><path d="M491.2,139.9 490.1,139.4 488.9,139.7 489.7,143.6 489.5,144.0 494.8,151.1 493.2,152.2 490.6,155.8 490.8,156.3 489.6,163.0 497.0,166.1 513.4,163.6 517.7,161.5 518.4,155.2 520.4,149.0 520.4,148.1 514.1,145.9 508.5,142.0Z" fill="#ffff12" stroke="#2a2008" stroke-width="0.95"/><path d="M526.0,101.7 503.9,106.2 500.8,105.8 496.5,105.9 496.3,106.4 499.4,109.5 500.7,110.4 500.6,111.2 501.6,113.5 501.2,115.5 513.3,117.9 513.4,118.9 517.3,119.9 526.1,118.1 531.9,122.0 533.4,120.6 535.9,120.5 535.8,112.4 532.7,109.5Z" fill="#ffff12" stroke="#2a2008" stroke-width="0.95"/><path d="M515.4,250.7 512.4,257.6 513.0,257.9 513.6,261.3 515.5,265.6 525.9,266.7 526.2,266.2 532.6,264.0 537.4,257.3 540.6,254.5 540.9,253.5 538.8,248.4 535.9,246.2 535.5,245.3 526.7,246.3 520.2,243.2 519.2,244.2Z" fill="#ffff12" stroke="#2a2008" stroke-width="0.95"/><path d="M527.2,85.8 526.8,86.1 523.2,86.0 524.8,88.5 523.5,88.6 525.0,89.4 525.9,94.8 525.9,101.7 532.7,109.5 535.7,112.4 536.6,112.0 537.4,112.3 543.9,110.3 544.5,110.6 550.5,105.8 551.1,102.0 550.6,101.2 553.7,97.4 556.5,97.1 555.0,93.8 554.2,89.3 553.0,89.5 546.5,88.5 546.1,88.2 537.7,91.2Z" fill="#ffff12" stroke="#2a2008" stroke-width="0.95"/><path d="M550.7,291.0 537.4,296.5 533.8,303.7 534.4,303.6 539.3,308.6 549.1,311.7 558.5,317.9 563.4,312.1 563.1,310.8 564.1,309.6 562.9,308.5 561.1,310.3 560.6,306.8 559.8,305.9 560.5,302.3 561.6,301.3 555.0,292.4 551.3,291.6Z" fill="#ffff12" stroke="#2a2008" stroke-width="0.95"/><path d="M535.5,136.4 533.2,143.4 534.3,144.5 536.0,144.4 538.7,151.6 541.4,157.3 546.0,163.2 547.9,159.3 557.8,162.4 563.6,157.8 563.1,156.6 564.6,149.9 558.4,146.5 551.9,141.2 552.1,140.4 550.5,136.0 543.5,134.3 537.1,131.0 536.0,131.9Z" fill="#ffff12" stroke="#2a2008" stroke-width="0.95"/><path d="M546.0,163.2 540.6,168.4 540.7,168.8 537.3,175.5 536.2,176.3 540.7,183.0 542.0,187.2 546.5,188.4 566.8,186.9 567.8,186.0 565.2,179.3 564.9,179.1 563.6,167.3 562.5,167.1 557.8,162.4 547.9,159.3Z" fill="#ffff12" stroke="#2a2008" stroke-width="0.95"/><path d="M544.6,219.3 546.2,226.8 546.0,227.2 549.4,234.0 555.5,236.7 555.9,237.2 566.3,234.1 567.8,227.9 567.5,227.3 573.9,220.0 571.9,210.1 565.0,211.8 558.2,212.8Z" fill="#ffff12" stroke="#2a2008" stroke-width="0.95"/><path d="M563.6,157.8 557.8,162.4 562.5,167.1 563.6,167.3 564.9,179.1 565.2,179.3 567.8,185.8 575.1,179.3 584.4,176.4 585.2,169.7 585.5,169.3 583.5,163.8 581.3,151.2 571.5,149.9 564.6,149.9 563.1,156.6Z" fill="#ffff12" stroke="#2a2008" stroke-width="0.95"/><path d="M584.4,176.4 575.1,179.3 567.8,185.8 575.7,198.6 576.7,197.2 582.3,194.7 592.6,200.7 602.3,203.0 602.7,202.7 602.4,201.4 604.4,195.4 605.0,192.9 604.6,192.4 606.1,188.4 600.9,182.4 603.4,180.3 604.1,180.5 607.3,177.0 602.7,176.6 602.2,177.5 594.3,178.4 594.0,178.7Z" fill="#ffff12" stroke="#2a2008" stroke-width="0.95"/><path d="M581.3,151.1 583.5,163.8 585.5,169.3 585.2,169.7 584.4,176.5 594.0,178.7 594.3,178.4 602.2,177.5 602.7,176.6 607.1,176.9 606.9,172.4 606.6,172.1 608.8,164.4 607.8,156.4 600.4,156.4 591.7,152.4Z" fill="#ffff12" stroke="#2a2008" stroke-width="0.95"/><path d="M620.5,117.7 623.4,126.2 622.9,126.7 620.3,134.6 618.4,138.3 624.5,139.9 625.6,139.5 632.8,147.9 633.7,147.6 637.1,148.3 640.9,145.7 644.8,138.9 643.1,131.4 638.0,122.2 632.2,118.2 626.9,115.5 630.6,110.8 626.0,110.2 625.1,114.3 620.7,116.1Z" fill="#ffff12" stroke="#2a2008" stroke-width="0.95"/><path d="M676.2,146.7 672.4,140.3 670.9,142.3 667.8,142.4 668.3,144.9 667.4,145.8 669.7,150.0 675.9,153.8 677.8,152.4Z" fill="#ffff12" stroke="#2a2008" stroke-width="0.95"/><path d="M435.8,124.1 440.0,129.7 438.8,133.2 439.9,135.9 445.8,141.8 452.7,143.9 459.6,147.0 459.6,147.9 466.7,146.9 466.9,146.4 469.4,145.2 471.3,141.4 468.1,135.0 468.4,134.6 469.2,128.0 466.4,129.1 462.3,129.7 461.8,128.8 454.4,125.0 448.6,123.5 443.0,122.6 442.6,122.1 440.5,122.7 440.2,124.1Z" fill="#cdd0e6" stroke="#2a2008" stroke-width="0.95"/><path d="M489.6,163.0 483.1,166.9 477.4,169.0 476.7,167.7 472.2,165.1 466.5,160.7 467.6,165.5 469.6,171.4 473.5,179.2 479.5,185.2 485.4,188.2 489.3,189.2 496.7,187.4 501.1,187.6 502.2,180.8 501.7,180.5 500.5,175.1 497.0,166.1Z" fill="#cdd0e6" stroke="#2a2008" stroke-width="0.95"/><path d="M500.6,110.8 491.7,115.5 492.0,116.7 492.8,117.3 493.7,123.9 493.8,133.3 490.1,139.4 491.2,139.9 508.4,142.0 508.8,141.1 509.3,134.0 513.4,118.9 513.3,117.9 501.2,115.5 501.6,113.5Z" fill="#cdd0e6" stroke="#2a2008" stroke-width="0.95"/><path d="M497.0,166.1 500.5,175.1 501.7,180.5 502.2,180.8 501.1,187.6 501.4,188.0 501.2,188.7 505.0,195.3 510.9,200.3 518.8,196.6 516.9,188.7 515.7,174.2 513.4,163.6Z" fill="#cdd0e6" stroke="#2a2008" stroke-width="0.95"/><path d="M513.4,163.6 515.7,174.2 516.9,188.7 518.8,196.6 529.3,195.7 536.5,193.0 538.7,189.7 541.8,187.6 542.0,186.7 540.7,183.0 536.2,176.3 536.5,175.9 534.4,172.4 534.5,171.1 528.8,168.8 522.8,166.9 517.7,161.5Z" fill="#cdd0e6" stroke="#2a2008" stroke-width="0.95"/><path d="M536.4,193.0 536.5,202.7 535.6,203.0 532.6,207.4 532.7,211.4 538.1,216.1 544.5,219.4 558.1,213.0 555.2,210.6 554.6,210.6 550.5,203.1 546.5,188.4 542.0,187.2 538.7,189.7Z" fill="#cdd0e6" stroke="#2a2008" stroke-width="0.95"/><path d="M567.8,227.9 566.3,234.1 565.2,234.3 565.3,240.5 564.9,241.1 567.3,247.0 577.0,245.0 577.0,243.6 578.3,241.4 578.7,237.4 586.8,244.5 590.9,238.5 593.1,231.6 592.2,231.0 590.6,224.1 574.2,220.0 567.5,227.3Z" fill="#cdd0e6" stroke="#2a2008" stroke-width="0.95"/><path d="M586.8,244.5 588.6,253.7 588.3,254.3 594.5,263.8 596.0,264.8 598.9,260.4 598.4,265.9 607.0,264.1 608.6,257.3 608.5,249.6 607.4,241.9 597.3,241.7 590.9,238.5Z" fill="#cdd0e6" stroke="#2a2008" stroke-width="0.95"/><path d="M608.2,79.7 606.0,84.8 604.9,85.5 605.9,88.5 606.9,89.5 613.8,89.5 622.6,92.7 626.9,92.9 629.1,83.8 631.1,84.2 633.7,83.2 631.7,79.3 625.8,77.3 621.8,72.3 621.8,65.5 619.8,63.6 615.9,69.3 608.1,70.1 607.1,68.8Z" fill="#cdd0e6" stroke="#2a2008" stroke-width="0.95"/><path d="M629.1,83.8 626.9,92.9 625.9,100.0 626.0,110.2 630.6,110.8 626.9,115.5 632.2,118.2 638.0,122.2 642.8,119.3 642.7,112.3 643.7,103.6 641.1,95.0 636.1,84.9 633.7,83.2 631.1,84.2Z" fill="#cdd0e6" stroke="#2a2008" stroke-width="0.95"/><path d="M664.4,120.0 652.7,122.6 652.3,122.0 642.8,119.3 638.0,122.2 643.1,131.4 644.8,138.8 650.7,135.6 651.2,134.8 662.4,138.4 672.4,140.3 671.7,132.7 674.2,125.9 675.3,121.4 674.4,118.2 673.6,118.3 671.7,117.7Z" fill="#cdd0e6" stroke="#2a2008" stroke-width="0.95"/><path d="M643.5,239.7 645.7,243.8 646.7,243.5 647.8,244.7 650.3,245.0 644.8,258.0 651.4,257.4 652.0,257.7 661.6,252.0 662.2,252.3 670.3,250.8 676.2,247.1 679.1,241.3 676.0,233.5 672.1,229.5 660.3,229.1 660.4,235.8 660.8,236.8 650.6,242.7 648.2,241.6 648.1,240.2Z" fill="#cdd0e6" stroke="#2a2008" stroke-width="0.95"/><path d="M566.8,186.9 546.7,188.3 546.4,188.9 548.4,194.8 550.5,203.1 554.6,210.6 555.2,210.6 558.2,212.8 565.0,211.8 571.9,210.1 572.0,209.1 575.8,202.8 575.7,198.6 567.9,186.1Z" fill="#ffffff" stroke="#2a2008" stroke-width="0.95"/></g></g>
<g id="extras"><path d="M315.7,64.1 320.8,50.8 335.2,43.0 353.7,42.2 370.0,33.3 371.7,46.7 372.1,73.4 371.1,85.7 368.0,93.9 349.5,90.8 336.2,88.8 322.9,79.5 317.7,70.3Z" fill="#050505"/><g fill="none" stroke="#cfcfcf" stroke-width="0.6"><ellipse cx="337.5" cy="64" rx="12" ry="8.5"/><path d="M335.3,43 L336.5,48 335,52 336.5,55.5"/><path d="M336,72.5 L336.5,80 336,88.8"/><path d="M349,66 Q356,60 362,65 T372,73"/><path d="M348.5,67 h7 v5 h-7z"/></g><path d="M343.8,308.5 345.9,310.5 346.5,318.7 348.5,324.9 350.6,335.2 349.1,345.4 347.1,355.7 345.4,361.9 343.8,366.4 338.3,362.9 333.1,359.8 334.1,355.7 329.0,353.7 331.1,349.5 327.0,346.5 329.0,342.4 325.3,339.3 326.6,336.2 323.9,333.1 325.9,328.0 330.0,323.9 336.2,319.8 340.3,318.7 341.7,310.5Z" fill="#cfd1e4" stroke="#55556a" stroke-width="0.5"/><path d="M324.5,332 Q333,334 337.2,338.3 T343.8,349.5 L349,346.5" fill="none" stroke="#55556a" stroke-width="0.5"/><path d="M439.0,29.0 440.6,22.6 443.5,19.3 447.0,17.0 455.0,14.6 463.0,16.2 468.5,12.0 471.0,14.6 471.4,29.0 471.0,43.4 473.4,48.2 471.7,55.5 468.5,53.0 463.0,49.0 455.0,48.2 451.0,45.8 449.4,42.6 445.4,41.0 442.5,38.5 440.6,35.4Z" fill="#2b2e32" transform="translate(-15,8)"/><path d="M439.0,29.0 440.6,22.6 443.5,19.3 447.0,17.0 455.0,14.6 463.0,16.2 468.5,12.0 471.0,14.6 471.4,29.0 471.0,43.4 473.4,48.2 471.7,55.5 468.5,53.0 463.0,49.0 455.0,48.2 451.0,45.8 449.4,42.6 445.4,41.0 442.5,38.5 440.6,35.4Z" fill="#067a45" stroke="#04512f" stroke-width="0.8"/><g font-family="Liberation Sans, sans-serif" font-weight="700" font-size="7.6" text-anchor="middle" fill="#f3fbf0" letter-spacing="0.5"><text x="465.3" y="24.0">93</text><text x="454.7" y="33.7">75</text><text x="450.4" y="42.7">92</text><text x="464.9" y="45.7">94</text></g><path d="M472,22 H479.5 M460,31 H479.5" stroke="#0e171b" stroke-width="1.1"/><g font-family="Liberation Sans, sans-serif" font-weight="700" font-size="7" fill="#0e171b" stroke="#0e171b" stroke-width="0.15"><text x="481" y="24.3" textLength="68" lengthAdjust="spacingAndGlyphs">numéro départemental</text><text x="481" y="32.8" textLength="78" lengthAdjust="spacingAndGlyphs">number to the department</text><text x="414" y="66.8" font-size="5.6" textLength="31" lengthAdjust="spacingAndGlyphs">Île-de-France</text></g><path d="M676.8,321.6 678.9,323.6 679.3,331.8 681.3,338.0 682.4,344.1 680.3,351.3 678.3,358.5 676.2,365.7 672.1,373.9 668.0,370.8 663.9,365.7 662.9,359.5 660.8,353.4 661.8,347.2 659.8,341.1 660.8,337.0 661.8,331.8 665.9,333.9 672.1,331.8 674.8,326.7Z" fill="#2b2e32" transform="translate(-15,8)"/><path d="M676.8,321.6 678.9,323.6 679.3,331.8 681.3,338.0 682.4,344.1 680.3,351.3 678.3,358.5 676.2,365.7 672.1,373.9 668.0,370.8 663.9,365.7 662.9,359.5 660.8,353.4 661.8,347.2 659.8,341.1 660.8,337.0 661.8,331.8 665.9,333.9 672.1,331.8 674.8,326.7Z" fill="#e3efe6" stroke="#3b6b55" stroke-width="0.6"/><path d="M660.4,340.0 664.0,341.5 668.0,344.0 671.0,348.0 674.1,353.4 678.9,355.8 678.3,358.5 676.2,365.7 672.1,373.9 668.0,370.8 663.9,365.7 662.9,359.5 660.8,353.4 661.8,347.2 659.8,341.1Z" fill="#acd4b0" stroke="#3b6b55" stroke-width="0.5"/><g font-family="Liberation Sans, sans-serif" font-weight="700" font-size="7" text-anchor="middle" fill="#1f4373"><text x="674.8" y="345.3">2B</text><text x="669" y="362" fill="#15604a">2A</text></g></g>
<g id="texts"><text x="4.6" y="14.5" font-family="Liberation Sans, sans-serif" font-weight="700" font-size="12.8" fill="#000" textLength="341.5" lengthAdjust="spacingAndGlyphs">La carte de France de la radicalisation djihadiste</text><text x="17.4" y="358.2" font-family="Liberation Serif, serif" font-style="italic" font-weight="400" font-size="7.3" fill="#111" stroke="#111" stroke-width="0.22" textLength="256" lengthAdjust="spacingAndGlyphs">Source : Unité de coordination de la lutte anti-terroriste (UCLAT), Ministère de l'Intérieur</text><rect x="297" y="141" width="17" height="21.7" fill="#ffffff"/><rect x="297" y="162.7" width="17" height="10.7" fill="#c2c2c4"/><rect x="297" y="173.4" width="17" height="11.4" fill="#ffff22"/><rect x="297" y="184.8" width="17" height="11.0" fill="#f79b45"/><rect x="297" y="195.8" width="17" height="11.4" fill="#ad500f"/><rect x="297" y="207.2" width="17" height="11.0" fill="#7c8c2c"/><rect x="297" y="218.2" width="17" height="10.8" fill="#050505"/><rect x="297" y="141" width="17" height="88" fill="none" stroke="#9a9a9a" stroke-width="0.7"/><g font-family="Liberation Serif, serif" font-size="9.4" fill="#000"><text x="316" y="150">Aucun</text><text x="316" y="160.4">signalement</text><text x="316" y="170.9">de 1 à 10</text><text x="316" y="182">de 11 à 15</text><text x="316" y="193">de 16 à 20</text><text x="316" y="203.9">de 21 à 29</text><text x="316" y="214.8">de 30 à 49</text><text x="316" y="225.6">50 et +</text></g><g font-family="Liberation Sans, sans-serif" font-weight="700" fill="#0b1114"><text x="674.6" y="52.9" font-size="57.5" textLength="68.5" lengthAdjust="spacingAndGlyphs" stroke="#0b1114" stroke-width="2.4">2015</text><text x="675" y="64" font-size="10" textLength="34" lengthAdjust="spacingAndGlyphs" stroke="#0b1114" stroke-width="0.5">France</text></g><rect x="385.6" y="340.2" width="138.4" height="83.3" rx="3.5" fill="#fff" stroke="#0a0a0a" stroke-width="1.4"/><rect x="397" y="347.5" width="42" height="8" rx="4" fill="#ffffff" stroke="#1c2b26" stroke-width="0.8"/><text x="446.6" y="355.1" font-family="Liberation Sans, sans-serif" font-weight="700" font-size="12.6" fill="#15403c" textLength="69" lengthAdjust="spacingAndGlyphs">Moins de 5</text><rect x="398" y="363.5" width="42" height="8" rx="4" fill="#dcebdf" stroke="#1c2b26" stroke-width="0.8"/><text x="446.6" y="371.1" font-family="Liberation Sans, sans-serif" font-weight="700" font-size="12.6" fill="#15403c" textLength="56" lengthAdjust="spacingAndGlyphs">De 6 à 10</text><rect x="398.5" y="379" width="42" height="8" rx="4" fill="#acd4b0" stroke="#1c2b26" stroke-width="0.8"/><text x="446.6" y="386.6" font-family="Liberation Sans, sans-serif" font-weight="700" font-size="12.6" fill="#15403c" textLength="63.5" lengthAdjust="spacingAndGlyphs">De 11 à 20</text><rect x="398.5" y="395.5" width="42" height="8" rx="4" fill="#10aa6c" stroke="#1c2b26" stroke-width="0.8"/><text x="446.6" y="403.1" font-family="Liberation Sans, sans-serif" font-weight="700" font-size="12.6" fill="#15403c" textLength="63.5" lengthAdjust="spacingAndGlyphs">De 21 à 30</text><rect x="399" y="411" width="42" height="8" rx="4" fill="#067a45" stroke="#1c2b26" stroke-width="0.8"/><text x="446.6" y="418.6" font-family="Liberation Sans, sans-serif" font-weight="700" font-size="12.6" fill="#15403c" textLength="65.5" lengthAdjust="spacingAndGlyphs">Plus de 30</text><g font-family="Liberation Serif, serif" font-weight="700"><text x="532.5" y="399.6" font-size="17.6" fill="#d8232a" stroke="#d8232a" stroke-width="0.55" textLength="34.5" lengthAdjust="spacingAndGlyphs">4591</text><text x="573" y="399" font-size="16" fill="#0a0a0a" stroke="#0a0a0a" stroke-width="0.75" textLength="172" lengthAdjust="spacingAndGlyphs">Mosques and Islamic schools in France</text><text x="592.5" y="417" font-size="17.6" fill="#d8232a" stroke="#d8232a" stroke-width="0.55" textLength="36" lengthAdjust="spacingAndGlyphs">4591</text><text x="634.5" y="416.4" font-size="16" fill="#0a0a0a" stroke="#0a0a0a" stroke-width="0.75" textLength="107" lengthAdjust="spacingAndGlyphs">lieux de culte musulman</text></g><path d="M525,420.8 H750" stroke="#ffffff" stroke-opacity="0.3" stroke-width="1"/><text x="432" y="434.3" font-family="Liberation Sans, sans-serif" font-weight="700" font-size="6" fill="#1b252b" textLength="316" lengthAdjust="spacingAndGlyphs">© C.S.P.I.F. Collectif de Surveillance de la Progression Islamique en France. http muzulmania.wordpress.com</text></g>
</svg>
</body></html>
